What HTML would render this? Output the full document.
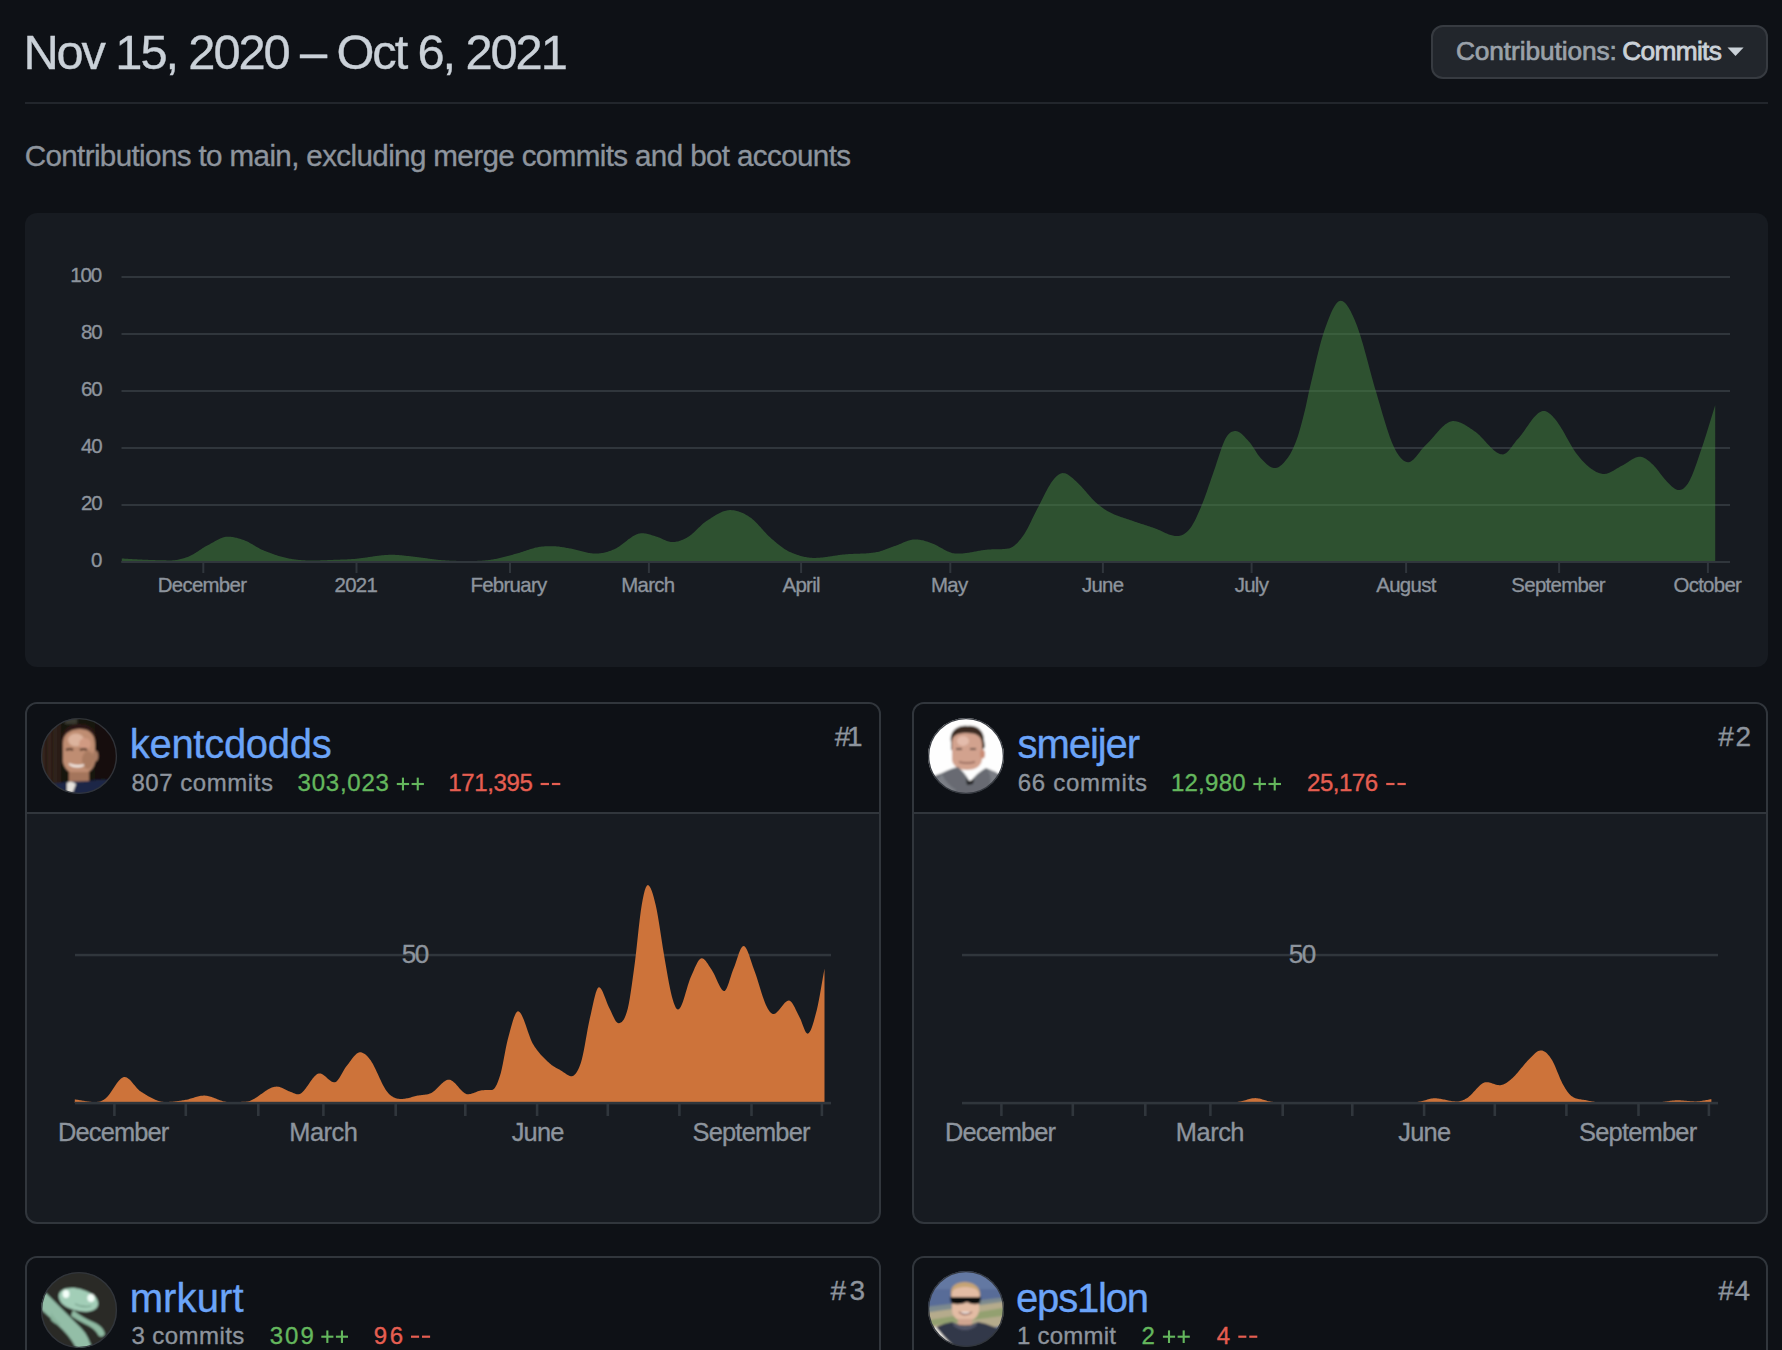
<!DOCTYPE html>
<html><head><meta charset="utf-8">
<style>
html,body{margin:0;padding:0;background:#0e1116;width:1782px;height:1350px;overflow:hidden;position:relative}
.t{position:absolute;white-space:nowrap;line-height:1;font-family:"Liberation Sans", sans-serif}
</style></head><body>
<div style="position:absolute;left:1431px;top:25px;width:337px;height:54px;box-sizing:border-box;border:2px solid #373b41;border-radius:12px;background:#22262c"></div>
<div style="position:absolute;left:25px;top:102px;width:1743px;height:2px;background:#22262c"></div>
<div style="position:absolute;left:25px;top:213px;width:1743px;height:454px;border-radius:12px;background:#171b21"></div>
<div style="position:absolute;left:25px;top:702px;width:856px;height:522px;box-sizing:border-box;border:2px solid #31363c;border-radius:12px;background:#171b21;overflow:hidden"><div style="position:absolute;left:0;top:0;right:0;height:108px;background:#0e1116;border-bottom:2px solid #31363c"></div></div>
<div style="position:absolute;left:912px;top:702px;width:856px;height:522px;box-sizing:border-box;border:2px solid #31363c;border-radius:12px;background:#171b21;overflow:hidden"><div style="position:absolute;left:0;top:0;right:0;height:108px;background:#0e1116;border-bottom:2px solid #31363c"></div></div>
<div style="position:absolute;left:25px;top:1256px;width:856px;height:300px;box-sizing:border-box;border:2px solid #31363c;border-radius:12px;background:#171b21;overflow:hidden"><div style="position:absolute;left:0;top:0;right:0;height:108px;background:#0e1116;border-bottom:2px solid #31363c"></div></div>
<div style="position:absolute;left:912px;top:1256px;width:856px;height:300px;box-sizing:border-box;border:2px solid #31363c;border-radius:12px;background:#171b21;overflow:hidden"><div style="position:absolute;left:0;top:0;right:0;height:108px;background:#0e1116;border-bottom:2px solid #31363c"></div></div>
<svg style="position:absolute;left:0;top:0" width="1782" height="1350">
<path d="M1727.5,47.5 L1743.6,47.5 L1735.5,56 Z" fill="#cad1d8"/>
<rect x="121.5" y="276" width="1608.5" height="2" fill="#30363c"/>
<rect x="121.5" y="333" width="1608.5" height="2" fill="#30363c"/>
<rect x="121.5" y="390" width="1608.5" height="2" fill="#30363c"/>
<rect x="121.5" y="447" width="1608.5" height="2" fill="#30363c"/>
<rect x="121.5" y="504" width="1608.5" height="2" fill="#30363c"/>
<rect x="121.5" y="561" width="1608.5" height="2" fill="#30363c"/>
<path d="M121.8,562.0 L121.8,558.50 L122.8,558.55 L123.8,558.61 L124.8,558.67 L125.8,558.72 L126.8,558.78 L127.8,558.84 L128.8,558.90 L129.8,558.96 L130.8,559.02 L131.8,559.08 L132.8,559.13 L133.8,559.19 L134.8,559.25 L135.8,559.31 L136.8,559.36 L137.8,559.42 L138.8,559.47 L139.8,559.52 L140.8,559.57 L141.8,559.62 L142.8,559.67 L143.8,559.71 L144.8,559.76 L145.8,559.80 L146.8,559.83 L147.8,559.87 L148.8,559.91 L149.8,559.95 L150.8,559.98 L151.8,560.02 L152.8,560.05 L153.8,560.09 L154.8,560.12 L155.8,560.15 L156.8,560.18 L157.8,560.21 L158.8,560.23 L159.8,560.26 L160.8,560.28 L161.8,560.30 L162.8,560.32 L163.8,560.34 L164.8,560.36 L165.8,560.37 L166.8,560.38 L167.8,560.39 L168.8,560.40 L169.8,560.40 L170.8,560.40 L171.8,560.38 L172.8,560.34 L173.8,560.27 L174.8,560.17 L175.8,560.05 L176.8,559.91 L177.8,559.74 L178.8,559.55 L179.8,559.34 L180.8,559.10 L181.8,558.85 L182.8,558.57 L183.8,558.27 L184.8,557.95 L185.8,557.61 L186.8,557.25 L187.8,556.88 L188.8,556.48 L189.8,556.06 L190.8,555.59 L191.8,555.08 L192.8,554.53 L193.8,553.95 L194.8,553.34 L195.8,552.71 L196.8,552.07 L197.8,551.41 L198.8,550.74 L199.8,550.07 L200.8,549.40 L201.8,548.74 L202.8,548.10 L203.8,547.46 L204.8,546.85 L205.8,546.27 L206.8,545.72 L207.8,545.20 L208.8,544.68 L209.8,544.14 L210.8,543.58 L211.8,543.02 L212.8,542.45 L213.8,541.88 L214.8,541.32 L215.8,540.77 L216.8,540.23 L217.8,539.71 L218.8,539.22 L219.8,538.76 L220.8,538.33 L221.8,537.94 L222.8,537.59 L223.8,537.30 L224.8,537.05 L225.8,536.87 L226.8,536.75 L227.8,536.70 L228.8,536.71 L229.8,536.75 L230.8,536.83 L231.8,536.93 L232.8,537.07 L233.8,537.23 L234.8,537.42 L235.8,537.64 L236.8,537.87 L237.8,538.13 L238.8,538.42 L239.8,538.72 L240.8,539.04 L241.8,539.38 L242.8,539.73 L243.8,540.10 L244.8,540.48 L245.8,540.89 L246.8,541.34 L247.8,541.83 L248.8,542.35 L249.8,542.89 L250.8,543.45 L251.8,544.02 L252.8,544.61 L253.8,545.20 L254.8,545.80 L255.8,546.39 L256.8,546.97 L257.8,547.55 L258.8,548.10 L259.8,548.64 L260.8,549.15 L261.8,549.63 L262.8,550.07 L263.8,550.49 L264.8,550.90 L265.8,551.30 L266.8,551.70 L267.8,552.09 L268.8,552.48 L269.8,552.86 L270.8,553.24 L271.8,553.61 L272.8,553.97 L273.8,554.32 L274.8,554.67 L275.8,555.00 L276.8,555.33 L277.8,555.65 L278.8,555.96 L279.8,556.26 L280.8,556.56 L281.8,556.84 L282.8,557.11 L283.8,557.37 L284.8,557.62 L285.8,557.86 L286.8,558.09 L287.8,558.30 L288.8,558.50 L289.8,558.69 L290.8,558.87 L291.8,559.04 L292.8,559.20 L293.8,559.34 L294.8,559.48 L295.8,559.61 L296.8,559.72 L297.8,559.83 L298.8,559.93 L299.8,560.01 L300.8,560.09 L301.8,560.17 L302.8,560.23 L303.8,560.29 L304.8,560.34 L305.8,560.38 L306.8,560.41 L307.8,560.44 L308.8,560.46 L309.8,560.48 L310.8,560.49 L311.8,560.50 L312.8,560.50 L313.8,560.50 L314.8,560.49 L315.8,560.47 L316.8,560.46 L317.8,560.44 L318.8,560.41 L319.8,560.39 L320.8,560.36 L321.8,560.33 L322.8,560.29 L323.8,560.25 L324.8,560.22 L325.8,560.18 L326.8,560.14 L327.8,560.10 L328.8,560.05 L329.8,560.01 L330.8,559.97 L331.8,559.93 L332.8,559.89 L333.8,559.85 L334.8,559.81 L335.8,559.77 L336.8,559.74 L337.8,559.70 L338.8,559.67 L339.8,559.64 L340.8,559.61 L341.8,559.58 L342.8,559.55 L343.8,559.51 L344.8,559.48 L345.8,559.44 L346.8,559.40 L347.8,559.35 L348.8,559.30 L349.8,559.25 L350.8,559.19 L351.8,559.12 L352.8,559.05 L353.8,558.98 L354.8,558.89 L355.8,558.80 L356.8,558.70 L357.8,558.59 L358.8,558.47 L359.8,558.35 L360.8,558.23 L361.8,558.10 L362.8,557.96 L363.8,557.82 L364.8,557.68 L365.8,557.53 L366.8,557.39 L367.8,557.24 L368.8,557.09 L369.8,556.94 L370.8,556.79 L371.8,556.65 L372.8,556.50 L373.8,556.36 L374.8,556.21 L375.8,556.08 L376.8,555.94 L377.8,555.81 L378.8,555.69 L379.8,555.57 L380.8,555.46 L381.8,555.35 L382.8,555.25 L383.8,555.16 L384.8,555.08 L385.8,555.01 L386.8,554.95 L387.8,554.89 L388.8,554.85 L389.8,554.82 L390.8,554.81 L391.8,554.80 L392.8,554.81 L393.8,554.83 L394.8,554.86 L395.8,554.90 L396.8,554.95 L397.8,555.01 L398.8,555.08 L399.8,555.16 L400.8,555.25 L401.8,555.34 L402.8,555.44 L403.8,555.54 L404.8,555.65 L405.8,555.76 L406.8,555.88 L407.8,555.99 L408.8,556.11 L409.8,556.23 L410.8,556.35 L411.8,556.47 L412.8,556.59 L413.8,556.71 L414.8,556.82 L415.8,556.93 L416.8,557.04 L417.8,557.16 L418.8,557.27 L419.8,557.40 L420.8,557.53 L421.8,557.66 L422.8,557.79 L423.8,557.93 L424.8,558.07 L425.8,558.21 L426.8,558.35 L427.8,558.50 L428.8,558.64 L429.8,558.78 L430.8,558.92 L431.8,559.05 L432.8,559.19 L433.8,559.32 L434.8,559.44 L435.8,559.56 L436.8,559.68 L437.8,559.79 L438.8,559.89 L439.8,559.99 L440.8,560.08 L441.8,560.16 L442.8,560.23 L443.8,560.30 L444.8,560.37 L445.8,560.43 L446.8,560.49 L447.8,560.55 L448.8,560.60 L449.8,560.65 L450.8,560.70 L451.8,560.74 L452.8,560.78 L453.8,560.81 L454.8,560.84 L455.8,560.87 L456.8,560.90 L457.8,560.92 L458.8,560.94 L459.8,560.96 L460.8,560.97 L461.8,560.98 L462.8,560.99 L463.8,561.00 L464.8,561.00 L465.8,561.00 L466.8,561.00 L467.8,561.00 L468.8,561.00 L469.8,560.99 L470.8,560.99 L471.8,560.98 L472.8,560.97 L473.8,560.95 L474.8,560.93 L475.8,560.91 L476.8,560.88 L477.8,560.85 L478.8,560.81 L479.8,560.77 L480.8,560.72 L481.8,560.66 L482.8,560.59 L483.8,560.52 L484.8,560.44 L485.8,560.35 L486.8,560.25 L487.8,560.14 L488.8,560.03 L489.8,559.90 L490.8,559.76 L491.8,559.61 L492.8,559.44 L493.8,559.27 L494.8,559.08 L495.8,558.88 L496.8,558.68 L497.8,558.47 L498.8,558.24 L499.8,558.01 L500.8,557.78 L501.8,557.53 L502.8,557.29 L503.8,557.03 L504.8,556.78 L505.8,556.51 L506.8,556.25 L507.8,555.98 L508.8,555.71 L509.8,555.45 L510.8,555.18 L511.8,554.91 L512.8,554.64 L513.8,554.37 L514.8,554.11 L515.8,553.84 L516.8,553.56 L517.8,553.27 L518.8,552.96 L519.8,552.65 L520.8,552.33 L521.8,552.00 L522.8,551.66 L523.8,551.32 L524.8,550.98 L525.8,550.65 L526.8,550.31 L527.8,549.97 L528.8,549.64 L529.8,549.32 L530.8,549.01 L531.8,548.70 L532.8,548.41 L533.8,548.13 L534.8,547.87 L535.8,547.62 L536.8,547.39 L537.8,547.18 L538.8,546.99 L539.8,546.83 L540.8,546.69 L541.8,546.57 L542.8,546.48 L543.8,546.40 L544.8,546.34 L545.8,546.29 L546.8,546.25 L547.8,546.23 L548.8,546.21 L549.8,546.21 L550.8,546.20 L551.8,546.20 L552.8,546.20 L553.8,546.23 L554.8,546.27 L555.8,546.33 L556.8,546.41 L557.8,546.51 L558.8,546.62 L559.8,546.75 L560.8,546.89 L561.8,547.03 L562.8,547.19 L563.8,547.35 L564.8,547.52 L565.8,547.70 L566.8,547.88 L567.8,548.05 L568.8,548.23 L569.8,548.41 L570.8,548.58 L571.8,548.76 L572.8,548.96 L573.8,549.18 L574.8,549.41 L575.8,549.65 L576.8,549.90 L577.8,550.16 L578.8,550.43 L579.8,550.70 L580.8,550.97 L581.8,551.24 L582.8,551.51 L583.8,551.77 L584.8,552.02 L585.8,552.26 L586.8,552.49 L587.8,552.71 L588.8,552.90 L589.8,553.08 L590.8,553.24 L591.8,553.37 L592.8,553.47 L593.8,553.54 L594.8,553.59 L595.8,553.60 L596.8,553.58 L597.8,553.53 L598.8,553.46 L599.8,553.36 L600.8,553.23 L601.8,553.08 L602.8,552.91 L603.8,552.71 L604.8,552.48 L605.8,552.23 L606.8,551.96 L607.8,551.66 L608.8,551.35 L609.8,551.01 L610.8,550.64 L611.8,550.26 L612.8,549.86 L613.8,549.43 L614.8,548.98 L615.8,548.47 L616.8,547.90 L617.8,547.30 L618.8,546.65 L619.8,545.96 L620.8,545.24 L621.8,544.51 L622.8,543.75 L623.8,542.98 L624.8,542.20 L625.8,541.42 L626.8,540.64 L627.8,539.87 L628.8,539.12 L629.8,538.38 L630.8,537.68 L631.8,537.00 L632.8,536.36 L633.8,535.77 L634.8,535.22 L635.8,534.72 L636.8,534.29 L637.8,533.92 L638.8,533.62 L639.8,533.40 L640.8,533.26 L641.8,533.20 L642.8,533.22 L643.8,533.29 L644.8,533.41 L645.8,533.57 L646.8,533.77 L647.8,534.00 L648.8,534.26 L649.8,534.54 L650.8,534.84 L651.8,535.15 L652.8,535.47 L653.8,535.80 L654.8,536.12 L655.8,536.44 L656.8,536.75 L657.8,537.05 L658.8,537.41 L659.8,537.80 L660.8,538.24 L661.8,538.69 L662.8,539.16 L663.8,539.63 L664.8,540.09 L665.8,540.53 L666.8,540.94 L667.8,541.30 L668.8,541.61 L669.8,541.85 L670.8,542.02 L671.8,542.10 L672.8,542.09 L673.8,542.04 L674.8,541.94 L675.8,541.80 L676.8,541.61 L677.8,541.39 L678.8,541.13 L679.8,540.82 L680.8,540.48 L681.8,540.10 L682.8,539.69 L683.8,539.23 L684.8,538.75 L685.8,538.22 L686.8,537.67 L687.8,537.08 L688.8,536.45 L689.8,535.75 L690.8,534.99 L691.8,534.17 L692.8,533.31 L693.8,532.41 L694.8,531.47 L695.8,530.52 L696.8,529.55 L697.8,528.57 L698.8,527.59 L699.8,526.63 L700.8,525.68 L701.8,524.76 L702.8,523.87 L703.8,523.03 L704.8,522.24 L705.8,521.50 L706.8,520.84 L707.8,520.19 L708.8,519.54 L709.8,518.89 L710.8,518.24 L711.8,517.59 L712.8,516.95 L713.8,516.32 L714.8,515.70 L715.8,515.10 L716.8,514.52 L717.8,513.96 L718.8,513.42 L719.8,512.92 L720.8,512.44 L721.8,512.00 L722.8,511.60 L723.8,511.24 L724.8,510.92 L725.8,510.65 L726.8,510.43 L727.8,510.26 L728.8,510.15 L729.8,510.10 L730.8,510.11 L731.8,510.16 L732.8,510.24 L733.8,510.37 L734.8,510.53 L735.8,510.72 L736.8,510.96 L737.8,511.23 L738.8,511.54 L739.8,511.88 L740.8,512.26 L741.8,512.67 L742.8,513.11 L743.8,513.59 L744.8,514.10 L745.8,514.64 L746.8,515.22 L747.8,515.83 L748.8,516.46 L749.8,517.13 L750.8,517.85 L751.8,518.62 L752.8,519.46 L753.8,520.35 L754.8,521.29 L755.8,522.27 L756.8,523.29 L757.8,524.34 L758.8,525.41 L759.8,526.50 L760.8,527.60 L761.8,528.71 L762.8,529.82 L763.8,530.92 L764.8,532.01 L765.8,533.09 L766.8,534.14 L767.8,535.17 L768.8,536.16 L769.8,537.11 L770.8,538.01 L771.8,538.89 L772.8,539.76 L773.8,540.62 L774.8,541.48 L775.8,542.33 L776.8,543.17 L777.8,543.99 L778.8,544.80 L779.8,545.59 L780.8,546.36 L781.8,547.10 L782.8,547.81 L783.8,548.50 L784.8,549.16 L785.8,549.78 L786.8,550.36 L787.8,550.91 L788.8,551.42 L789.8,551.88 L790.8,552.33 L791.8,552.76 L792.8,553.18 L793.8,553.58 L794.8,553.97 L795.8,554.34 L796.8,554.70 L797.8,555.04 L798.8,555.36 L799.8,555.67 L800.8,555.96 L801.8,556.23 L802.8,556.48 L803.8,556.71 L804.8,556.93 L805.8,557.12 L806.8,557.29 L807.8,557.44 L808.8,557.58 L809.8,557.69 L810.8,557.77 L811.8,557.84 L812.8,557.88 L813.8,557.90 L814.8,557.90 L815.8,557.88 L816.8,557.84 L817.8,557.80 L818.8,557.74 L819.8,557.66 L820.8,557.58 L821.8,557.48 L822.8,557.38 L823.8,557.27 L824.8,557.15 L825.8,557.02 L826.8,556.88 L827.8,556.75 L828.8,556.60 L829.8,556.45 L830.8,556.31 L831.8,556.15 L832.8,556.00 L833.8,555.85 L834.8,555.70 L835.8,555.55 L836.8,555.40 L837.8,555.25 L838.8,555.11 L839.8,554.98 L840.8,554.85 L841.8,554.73 L842.8,554.61 L843.8,554.51 L844.8,554.41 L845.8,554.32 L846.8,554.24 L847.8,554.17 L848.8,554.11 L849.8,554.05 L850.8,554.00 L851.8,553.95 L852.8,553.91 L853.8,553.87 L854.8,553.83 L855.8,553.80 L856.8,553.76 L857.8,553.73 L858.8,553.70 L859.8,553.66 L860.8,553.62 L861.8,553.58 L862.8,553.54 L863.8,553.49 L864.8,553.44 L865.8,553.38 L866.8,553.31 L867.8,553.24 L868.8,553.16 L869.8,553.07 L870.8,552.97 L871.8,552.86 L872.8,552.74 L873.8,552.60 L874.8,552.46 L875.8,552.30 L876.8,552.12 L877.8,551.90 L878.8,551.65 L879.8,551.38 L880.8,551.08 L881.8,550.77 L882.8,550.43 L883.8,550.08 L884.8,549.71 L885.8,549.34 L886.8,548.96 L887.8,548.58 L888.8,548.19 L889.8,547.81 L890.8,547.43 L891.8,547.07 L892.8,546.71 L893.8,546.37 L894.8,546.03 L895.8,545.68 L896.8,545.30 L897.8,544.90 L898.8,544.49 L899.8,544.07 L900.8,543.64 L901.8,543.21 L902.8,542.78 L903.8,542.35 L904.8,541.94 L905.8,541.55 L906.8,541.17 L907.8,540.82 L908.8,540.50 L909.8,540.21 L910.8,539.96 L911.8,539.74 L912.8,539.58 L913.8,539.47 L914.8,539.41 L915.8,539.40 L916.8,539.44 L917.8,539.52 L918.8,539.63 L919.8,539.77 L920.8,539.94 L921.8,540.14 L922.8,540.36 L923.8,540.62 L924.8,540.89 L925.8,541.18 L926.8,541.49 L927.8,541.82 L928.8,542.16 L929.8,542.51 L930.8,542.88 L931.8,543.25 L932.8,543.66 L933.8,544.10 L934.8,544.57 L935.8,545.06 L936.8,545.58 L937.8,546.11 L938.8,546.65 L939.8,547.20 L940.8,547.76 L941.8,548.32 L942.8,548.87 L943.8,549.41 L944.8,549.94 L945.8,550.46 L946.8,550.95 L947.8,551.42 L948.8,551.86 L949.8,552.26 L950.8,552.62 L951.8,552.90 L952.8,553.13 L953.8,553.30 L954.8,553.43 L955.8,553.51 L956.8,553.57 L957.8,553.59 L958.8,553.60 L959.8,553.59 L960.8,553.56 L961.8,553.50 L962.8,553.43 L963.8,553.34 L964.8,553.24 L965.8,553.11 L966.8,552.98 L967.8,552.84 L968.8,552.68 L969.8,552.51 L970.8,552.34 L971.8,552.16 L972.8,551.98 L973.8,551.79 L974.8,551.60 L975.8,551.41 L976.8,551.22 L977.8,551.03 L978.8,550.85 L979.8,550.67 L980.8,550.50 L981.8,550.33 L982.8,550.18 L983.8,550.03 L984.8,549.90 L985.8,549.78 L986.8,549.67 L987.8,549.58 L988.8,549.51 L989.8,549.45 L990.8,549.41 L991.8,549.37 L992.8,549.34 L993.8,549.32 L994.8,549.31 L995.8,549.29 L996.8,549.28 L997.8,549.26 L998.8,549.24 L999.8,549.22 L1000.8,549.19 L1001.8,549.15 L1002.8,549.10 L1003.8,549.03 L1004.8,548.95 L1005.8,548.85 L1006.8,548.73 L1007.8,548.59 L1008.8,548.42 L1009.8,548.16 L1010.8,547.78 L1011.8,547.29 L1012.8,546.70 L1013.8,546.01 L1014.8,545.23 L1015.8,544.36 L1016.8,543.41 L1017.8,542.39 L1018.8,541.28 L1019.8,540.11 L1020.8,538.88 L1021.8,537.59 L1022.8,536.24 L1023.8,534.80 L1024.8,533.24 L1025.8,531.55 L1026.8,529.77 L1027.8,527.90 L1028.8,525.96 L1029.8,523.96 L1030.8,521.93 L1031.8,519.87 L1032.8,517.80 L1033.8,515.73 L1034.8,513.69 L1035.8,511.68 L1036.8,509.73 L1037.8,507.84 L1038.8,505.92 L1039.8,503.96 L1040.8,501.98 L1041.8,499.98 L1042.8,497.97 L1043.8,495.97 L1044.8,494.00 L1045.8,492.06 L1046.8,490.16 L1047.8,488.32 L1048.8,486.56 L1049.8,484.88 L1050.8,483.29 L1051.8,481.82 L1052.8,480.46 L1053.8,479.19 L1054.8,478.03 L1055.8,476.97 L1056.8,476.02 L1057.8,475.20 L1058.8,474.50 L1059.8,473.94 L1060.8,473.51 L1061.8,473.23 L1062.8,473.11 L1063.8,473.14 L1064.8,473.31 L1065.8,473.62 L1066.8,474.04 L1067.8,474.57 L1068.8,475.20 L1069.8,475.90 L1070.8,476.68 L1071.8,477.50 L1072.8,478.37 L1073.8,479.27 L1074.8,480.19 L1075.8,481.10 L1076.8,482.01 L1077.8,482.93 L1078.8,483.89 L1079.8,484.91 L1080.8,485.95 L1081.8,487.04 L1082.8,488.14 L1083.8,489.27 L1084.8,490.42 L1085.8,491.57 L1086.8,492.73 L1087.8,493.89 L1088.8,495.04 L1089.8,496.17 L1090.8,497.29 L1091.8,498.39 L1092.8,499.45 L1093.8,500.48 L1094.8,501.47 L1095.8,502.41 L1096.8,503.31 L1097.8,504.17 L1098.8,505.01 L1099.8,505.82 L1100.8,506.60 L1101.8,507.35 L1102.8,508.07 L1103.8,508.76 L1104.8,509.42 L1105.8,510.06 L1106.8,510.67 L1107.8,511.25 L1108.8,511.81 L1109.8,512.34 L1110.8,512.85 L1111.8,513.33 L1112.8,513.80 L1113.8,514.24 L1114.8,514.67 L1115.8,515.08 L1116.8,515.47 L1117.8,515.86 L1118.8,516.23 L1119.8,516.59 L1120.8,516.94 L1121.8,517.28 L1122.8,517.62 L1123.8,517.95 L1124.8,518.27 L1125.8,518.60 L1126.8,518.93 L1127.8,519.25 L1128.8,519.58 L1129.8,519.91 L1130.8,520.25 L1131.8,520.59 L1132.8,520.94 L1133.8,521.29 L1134.8,521.63 L1135.8,521.97 L1136.8,522.31 L1137.8,522.65 L1138.8,522.98 L1139.8,523.31 L1140.8,523.64 L1141.8,523.97 L1142.8,524.29 L1143.8,524.62 L1144.8,524.94 L1145.8,525.27 L1146.8,525.60 L1147.8,525.92 L1148.8,526.25 L1149.8,526.58 L1150.8,526.92 L1151.8,527.25 L1152.8,527.59 L1153.8,527.93 L1154.8,528.28 L1155.8,528.65 L1156.8,529.05 L1157.8,529.48 L1158.8,529.92 L1159.8,530.37 L1160.8,530.84 L1161.8,531.31 L1162.8,531.78 L1163.8,532.25 L1164.8,532.71 L1165.8,533.16 L1166.8,533.59 L1167.8,534.01 L1168.8,534.39 L1169.8,534.75 L1170.8,535.08 L1171.8,535.37 L1172.8,535.61 L1173.8,535.82 L1174.8,535.97 L1175.8,536.06 L1176.8,536.10 L1177.8,536.07 L1178.8,535.96 L1179.8,535.77 L1180.8,535.50 L1181.8,535.14 L1182.8,534.69 L1183.8,534.15 L1184.8,533.51 L1185.8,532.77 L1186.8,531.93 L1187.8,530.98 L1188.8,529.92 L1189.8,528.75 L1190.8,527.44 L1191.8,525.97 L1192.8,524.34 L1193.8,522.57 L1194.8,520.68 L1195.8,518.67 L1196.8,516.56 L1197.8,514.37 L1198.8,512.11 L1199.8,509.79 L1200.8,507.43 L1201.8,505.04 L1202.8,502.58 L1203.8,500.00 L1204.8,497.32 L1205.8,494.54 L1206.8,491.69 L1207.8,488.79 L1208.8,485.86 L1209.8,482.91 L1210.8,479.96 L1211.8,477.04 L1212.8,474.15 L1213.8,471.32 L1214.8,468.43 L1215.8,465.44 L1216.8,462.37 L1217.8,459.27 L1218.8,456.18 L1219.8,453.13 L1220.8,450.17 L1221.8,447.34 L1222.8,444.67 L1223.8,442.20 L1224.8,439.98 L1225.8,438.04 L1226.8,436.39 L1227.8,435.02 L1228.8,433.90 L1229.8,433.01 L1230.8,432.32 L1231.8,431.81 L1232.8,431.45 L1233.8,431.23 L1234.8,431.12 L1235.8,431.10 L1236.8,431.23 L1237.8,431.53 L1238.8,431.99 L1239.8,432.58 L1240.8,433.30 L1241.8,434.12 L1242.8,435.03 L1243.8,436.02 L1244.8,437.06 L1245.8,438.14 L1246.8,439.24 L1247.8,440.35 L1248.8,441.46 L1249.8,442.56 L1250.8,443.80 L1251.8,445.17 L1252.8,446.63 L1253.8,448.17 L1254.8,449.74 L1255.8,451.32 L1256.8,452.88 L1257.8,454.39 L1258.8,455.81 L1259.8,457.12 L1260.8,458.28 L1261.8,459.32 L1262.8,460.35 L1263.8,461.36 L1264.8,462.34 L1265.8,463.29 L1266.8,464.18 L1267.8,465.02 L1268.8,465.78 L1269.8,466.45 L1270.8,467.02 L1271.8,467.49 L1272.8,467.83 L1273.8,468.04 L1274.8,468.10 L1275.8,468.01 L1276.8,467.77 L1277.8,467.39 L1278.8,466.88 L1279.8,466.24 L1280.8,465.50 L1281.8,464.64 L1282.8,463.70 L1283.8,462.66 L1284.8,461.55 L1285.8,460.36 L1286.8,459.11 L1287.8,457.80 L1288.8,456.34 L1289.8,454.74 L1290.8,453.00 L1291.8,451.10 L1292.8,449.05 L1293.8,446.86 L1294.8,444.50 L1295.8,441.99 L1296.8,439.33 L1297.8,436.42 L1298.8,433.24 L1299.8,429.83 L1300.8,426.24 L1301.8,422.49 L1302.8,418.64 L1303.8,414.73 L1304.8,410.79 L1305.8,406.60 L1306.8,401.86 L1307.8,396.93 L1308.8,392.19 L1309.8,387.95 L1310.8,383.77 L1311.8,379.52 L1312.8,375.23 L1313.8,370.92 L1314.8,366.61 L1315.8,362.34 L1316.8,358.12 L1317.8,353.98 L1318.8,349.95 L1319.8,346.05 L1320.8,342.31 L1321.8,338.74 L1322.8,335.38 L1323.8,332.26 L1324.8,329.36 L1325.8,326.55 L1326.8,323.78 L1327.8,321.08 L1328.8,318.47 L1329.8,315.97 L1330.8,313.59 L1331.8,311.36 L1332.8,309.28 L1333.8,307.39 L1334.8,305.70 L1335.8,304.23 L1336.8,302.99 L1337.8,302.02 L1338.8,301.31 L1339.8,300.90 L1340.8,300.80 L1341.8,300.97 L1342.8,301.37 L1343.8,301.99 L1344.8,302.82 L1345.8,303.85 L1346.8,305.07 L1347.8,306.46 L1348.8,308.03 L1349.8,309.75 L1350.8,311.62 L1351.8,313.63 L1352.8,315.76 L1353.8,318.01 L1354.8,320.37 L1355.8,322.82 L1356.8,325.36 L1357.8,328.04 L1358.8,330.91 L1359.8,333.93 L1360.8,337.11 L1361.8,340.41 L1362.8,343.83 L1363.8,347.35 L1364.8,350.95 L1365.8,354.61 L1366.8,358.32 L1367.8,362.05 L1368.8,365.81 L1369.8,369.55 L1370.8,373.28 L1371.8,376.97 L1372.8,380.61 L1373.8,384.18 L1374.8,387.66 L1375.8,391.04 L1376.8,394.36 L1377.8,397.73 L1378.8,401.14 L1379.8,404.57 L1380.8,408.02 L1381.8,411.46 L1382.8,414.88 L1383.8,418.26 L1384.8,421.59 L1385.8,424.85 L1386.8,428.03 L1387.8,431.11 L1388.8,434.08 L1389.8,436.92 L1390.8,439.61 L1391.8,442.15 L1392.8,444.51 L1393.8,446.69 L1394.8,448.73 L1395.8,450.63 L1396.8,452.39 L1397.8,454.01 L1398.8,455.49 L1399.8,456.83 L1400.8,458.02 L1401.8,459.06 L1402.8,459.96 L1403.8,460.71 L1404.8,461.31 L1405.8,461.75 L1406.8,462.05 L1407.8,462.19 L1408.8,462.16 L1409.8,461.91 L1410.8,461.47 L1411.8,460.84 L1412.8,460.06 L1413.8,459.14 L1414.8,458.10 L1415.8,456.97 L1416.8,455.76 L1417.8,454.50 L1418.8,453.21 L1419.8,451.90 L1420.8,450.61 L1421.8,449.35 L1422.8,448.14 L1423.8,447.01 L1424.8,445.97 L1425.8,445.03 L1426.8,444.07 L1427.8,443.06 L1428.8,442.02 L1429.8,440.93 L1430.8,439.82 L1431.8,438.69 L1432.8,437.54 L1433.8,436.38 L1434.8,435.22 L1435.8,434.06 L1436.8,432.91 L1437.8,431.78 L1438.8,430.67 L1439.8,429.59 L1440.8,428.55 L1441.8,427.54 L1442.8,426.59 L1443.8,425.69 L1444.8,424.85 L1445.8,424.08 L1446.8,423.38 L1447.8,422.77 L1448.8,422.24 L1449.8,421.80 L1450.8,421.46 L1451.8,421.23 L1452.8,421.12 L1453.8,421.11 L1454.8,421.18 L1455.8,421.31 L1456.8,421.51 L1457.8,421.76 L1458.8,422.07 L1459.8,422.43 L1460.8,422.84 L1461.8,423.29 L1462.8,423.78 L1463.8,424.30 L1464.8,424.86 L1465.8,425.45 L1466.8,426.06 L1467.8,426.69 L1468.8,427.34 L1469.8,428.00 L1470.8,428.68 L1471.8,429.36 L1472.8,430.04 L1473.8,430.72 L1474.8,431.40 L1475.8,432.11 L1476.8,432.90 L1477.8,433.75 L1478.8,434.66 L1479.8,435.62 L1480.8,436.63 L1481.8,437.66 L1482.8,438.73 L1483.8,439.82 L1484.8,440.92 L1485.8,442.03 L1486.8,443.13 L1487.8,444.23 L1488.8,445.30 L1489.8,446.36 L1490.8,447.38 L1491.8,448.36 L1492.8,449.30 L1493.8,450.18 L1494.8,450.99 L1495.8,451.74 L1496.8,452.41 L1497.8,453.00 L1498.8,453.49 L1499.8,453.89 L1500.8,454.18 L1501.8,454.35 L1502.8,454.40 L1503.8,454.25 L1504.8,453.86 L1505.8,453.26 L1506.8,452.47 L1507.8,451.53 L1508.8,450.45 L1509.8,449.26 L1510.8,448.00 L1511.8,446.67 L1512.8,445.32 L1513.8,443.96 L1514.8,442.63 L1515.8,441.34 L1516.8,440.12 L1517.8,439.00 L1518.8,437.90 L1519.8,436.72 L1520.8,435.47 L1521.8,434.16 L1522.8,432.80 L1523.8,431.41 L1524.8,429.99 L1525.8,428.55 L1526.8,427.11 L1527.8,425.66 L1528.8,424.23 L1529.8,422.82 L1530.8,421.44 L1531.8,420.11 L1532.8,418.82 L1533.8,417.60 L1534.8,416.45 L1535.8,415.38 L1536.8,414.41 L1537.8,413.54 L1538.8,412.78 L1539.8,412.14 L1540.8,411.63 L1541.8,411.27 L1542.8,411.05 L1543.8,411.00 L1544.8,411.11 L1545.8,411.37 L1546.8,411.78 L1547.8,412.31 L1548.8,412.96 L1549.8,413.73 L1550.8,414.59 L1551.8,415.55 L1552.8,416.59 L1553.8,417.70 L1554.8,418.87 L1555.8,420.10 L1556.8,421.37 L1557.8,422.70 L1558.8,424.13 L1559.8,425.65 L1560.8,427.24 L1561.8,428.89 L1562.8,430.59 L1563.8,432.34 L1564.8,434.12 L1565.8,435.92 L1566.8,437.73 L1567.8,439.53 L1568.8,441.33 L1569.8,443.10 L1570.8,444.84 L1571.8,446.53 L1572.8,448.17 L1573.8,449.74 L1574.8,451.23 L1575.8,452.64 L1576.8,454.01 L1577.8,455.33 L1578.8,456.61 L1579.8,457.85 L1580.8,459.04 L1581.8,460.18 L1582.8,461.28 L1583.8,462.34 L1584.8,463.35 L1585.8,464.31 L1586.8,465.22 L1587.8,466.09 L1588.8,466.91 L1589.8,467.68 L1590.8,468.43 L1591.8,469.14 L1592.8,469.82 L1593.8,470.47 L1594.8,471.07 L1595.8,471.63 L1596.8,472.14 L1597.8,472.60 L1598.8,472.99 L1599.8,473.33 L1600.8,473.61 L1601.8,473.81 L1602.8,473.94 L1603.8,474.00 L1604.8,473.97 L1605.8,473.84 L1606.8,473.63 L1607.8,473.34 L1608.8,472.98 L1609.8,472.56 L1610.8,472.08 L1611.8,471.56 L1612.8,471.01 L1613.8,470.42 L1614.8,469.82 L1615.8,469.21 L1616.8,468.60 L1617.8,467.99 L1618.8,467.40 L1619.8,466.83 L1620.8,466.30 L1621.8,465.80 L1622.8,465.28 L1623.8,464.72 L1624.8,464.11 L1625.8,463.48 L1626.8,462.82 L1627.8,462.16 L1628.8,461.49 L1629.8,460.84 L1630.8,460.19 L1631.8,459.58 L1632.8,459.00 L1633.8,458.46 L1634.8,457.98 L1635.8,457.56 L1636.8,457.22 L1637.8,456.95 L1638.8,456.78 L1639.8,456.70 L1640.8,456.75 L1641.8,456.92 L1642.8,457.23 L1643.8,457.64 L1644.8,458.16 L1645.8,458.77 L1646.8,459.45 L1647.8,460.20 L1648.8,461.01 L1649.8,461.87 L1650.8,462.76 L1651.8,463.66 L1652.8,464.59 L1653.8,465.58 L1654.8,466.66 L1655.8,467.82 L1656.8,469.04 L1657.8,470.31 L1658.8,471.61 L1659.8,472.93 L1660.8,474.25 L1661.8,475.56 L1662.8,476.84 L1663.8,478.08 L1664.8,479.26 L1665.8,480.37 L1666.8,481.40 L1667.8,482.41 L1668.8,483.43 L1669.8,484.46 L1670.8,485.46 L1671.8,486.41 L1672.8,487.30 L1673.8,488.10 L1674.8,488.80 L1675.8,489.37 L1676.8,489.79 L1677.8,490.04 L1678.8,490.10 L1679.8,490.01 L1680.8,489.78 L1681.8,489.41 L1682.8,488.88 L1683.8,488.19 L1684.8,487.34 L1685.8,486.30 L1686.8,485.07 L1687.8,483.64 L1688.8,482.01 L1689.8,480.17 L1690.8,478.12 L1691.8,475.88 L1692.8,473.48 L1693.8,470.93 L1694.8,468.26 L1695.8,465.49 L1696.8,462.64 L1697.8,459.73 L1698.8,456.78 L1699.8,453.81 L1700.8,450.84 L1701.8,447.89 L1702.8,444.94 L1703.8,441.92 L1704.8,438.83 L1705.8,435.70 L1706.8,432.52 L1707.8,429.31 L1708.8,426.07 L1709.8,422.81 L1710.8,419.54 L1711.8,416.28 L1712.8,413.02 L1713.8,409.79 L1714.8,406.58 L1715.2,405.30 L1715.2,562.0 Z" fill="#438440" fill-opacity="0.52"/>
<rect x="121.5" y="561" width="1608.5" height="2" fill="#30363c"/>
<rect x="202.3" y="563" width="2" height="10" fill="#30363c"/>
<rect x="355.5" y="563" width="2" height="10" fill="#30363c"/>
<rect x="509" y="563" width="2" height="10" fill="#30363c"/>
<rect x="647.9" y="563" width="2" height="10" fill="#30363c"/>
<rect x="800.1" y="563" width="2" height="10" fill="#30363c"/>
<rect x="949.3" y="563" width="2" height="10" fill="#30363c"/>
<rect x="1101.9" y="563" width="2" height="10" fill="#30363c"/>
<rect x="1250.6" y="563" width="2" height="10" fill="#30363c"/>
<rect x="1405.1" y="563" width="2" height="10" fill="#30363c"/>
<rect x="1558.1" y="563" width="2" height="10" fill="#30363c"/>
<rect x="1706.9" y="563" width="2" height="10" fill="#30363c"/>
<rect x="75" y="953.8" width="756" height="2.5" fill="#30363c"/>
<path d="M74.8,1103.0 L74.8,1099.40 L75.8,1099.53 L76.8,1099.68 L77.8,1099.83 L78.8,1100.00 L79.8,1100.16 L80.8,1100.33 L81.8,1100.51 L82.8,1100.68 L83.8,1100.84 L84.8,1101.01 L85.8,1101.17 L86.8,1101.32 L87.8,1101.46 L88.8,1101.59 L89.8,1101.70 L90.8,1101.80 L91.8,1101.88 L92.8,1101.94 L93.8,1101.98 L94.8,1102.00 L95.8,1101.99 L96.8,1101.94 L97.8,1101.84 L98.8,1101.68 L99.8,1101.46 L100.8,1101.16 L101.8,1100.79 L102.8,1100.32 L103.8,1099.76 L104.8,1099.08 L105.8,1098.30 L106.8,1097.37 L107.8,1096.28 L108.8,1095.06 L109.8,1093.72 L110.8,1092.31 L111.8,1090.83 L112.8,1089.31 L113.8,1087.78 L114.8,1086.26 L115.8,1084.78 L116.8,1083.36 L117.8,1082.02 L118.8,1080.79 L119.8,1079.69 L120.8,1078.74 L121.8,1077.98 L122.8,1077.42 L123.8,1077.08 L124.8,1077.01 L125.8,1077.18 L126.8,1077.57 L127.8,1078.17 L128.8,1078.94 L129.8,1079.85 L130.8,1080.87 L131.8,1081.99 L132.8,1083.17 L133.8,1084.38 L134.8,1085.60 L135.8,1086.81 L136.8,1087.97 L137.8,1089.05 L138.8,1090.04 L139.8,1090.90 L140.8,1091.60 L141.8,1092.22 L142.8,1092.84 L143.8,1093.46 L144.8,1094.08 L145.8,1094.70 L146.8,1095.30 L147.8,1095.90 L148.8,1096.48 L149.8,1097.04 L150.8,1097.59 L151.8,1098.12 L152.8,1098.62 L153.8,1099.10 L154.8,1099.55 L155.8,1099.98 L156.8,1100.36 L157.8,1100.72 L158.8,1101.03 L159.8,1101.31 L160.8,1101.54 L161.8,1101.73 L162.8,1101.87 L163.8,1101.96 L164.8,1102.00 L165.8,1102.00 L166.8,1101.98 L167.8,1101.95 L168.8,1101.91 L169.8,1101.85 L170.8,1101.79 L171.8,1101.71 L172.8,1101.63 L173.8,1101.53 L174.8,1101.43 L175.8,1101.32 L176.8,1101.20 L177.8,1101.07 L178.8,1100.94 L179.8,1100.80 L180.8,1100.66 L181.8,1100.51 L182.8,1100.35 L183.8,1100.19 L184.8,1100.03 L185.8,1099.86 L186.8,1099.65 L187.8,1099.41 L188.8,1099.15 L189.8,1098.87 L190.8,1098.57 L191.8,1098.26 L192.8,1097.95 L193.8,1097.64 L194.8,1097.33 L195.8,1097.04 L196.8,1096.75 L197.8,1096.49 L198.8,1096.25 L199.8,1096.05 L200.8,1095.87 L201.8,1095.74 L202.8,1095.64 L203.8,1095.60 L204.8,1095.62 L205.8,1095.69 L206.8,1095.82 L207.8,1096.00 L208.8,1096.23 L209.8,1096.49 L210.8,1096.79 L211.8,1097.12 L212.8,1097.47 L213.8,1097.85 L214.8,1098.23 L215.8,1098.62 L216.8,1099.02 L217.8,1099.41 L218.8,1099.79 L219.8,1100.16 L220.8,1100.51 L221.8,1100.84 L222.8,1101.14 L223.8,1101.40 L224.8,1101.62 L225.8,1101.80 L226.8,1101.92 L227.8,1101.99 L228.8,1102.00 L229.8,1102.00 L230.8,1102.00 L231.8,1102.00 L232.8,1102.00 L233.8,1101.99 L234.8,1101.99 L235.8,1101.98 L236.8,1101.97 L237.8,1101.95 L238.8,1101.94 L239.8,1101.92 L240.8,1101.89 L241.8,1101.87 L242.8,1101.83 L243.8,1101.80 L244.8,1101.75 L245.8,1101.71 L246.8,1101.62 L247.8,1101.45 L248.8,1101.20 L249.8,1100.89 L250.8,1100.50 L251.8,1100.06 L252.8,1099.56 L253.8,1099.02 L254.8,1098.43 L255.8,1097.81 L256.8,1097.15 L257.8,1096.48 L258.8,1095.78 L259.8,1095.07 L260.8,1094.35 L261.8,1093.63 L262.8,1092.91 L263.8,1092.21 L264.8,1091.52 L265.8,1090.85 L266.8,1090.21 L267.8,1089.60 L268.8,1089.03 L269.8,1088.51 L270.8,1088.04 L271.8,1087.62 L272.8,1087.27 L273.8,1086.99 L274.8,1086.78 L275.8,1086.64 L276.8,1086.60 L277.8,1086.66 L278.8,1086.82 L279.8,1087.07 L280.8,1087.39 L281.8,1087.78 L282.8,1088.22 L283.8,1088.70 L284.8,1089.19 L285.8,1089.70 L286.8,1090.20 L287.8,1090.68 L288.8,1091.13 L289.8,1091.53 L290.8,1091.91 L291.8,1092.33 L292.8,1092.78 L293.8,1093.21 L294.8,1093.61 L295.8,1093.94 L296.8,1094.18 L297.8,1094.29 L298.8,1094.23 L299.8,1093.93 L300.8,1093.39 L301.8,1092.66 L302.8,1091.74 L303.8,1090.67 L304.8,1089.48 L305.8,1088.18 L306.8,1086.80 L307.8,1085.38 L308.8,1083.92 L309.8,1082.47 L310.8,1081.04 L311.8,1079.66 L312.8,1078.35 L313.8,1077.14 L314.8,1076.06 L315.8,1075.13 L316.8,1074.37 L317.8,1073.81 L318.8,1073.48 L319.8,1073.40 L320.8,1073.57 L321.8,1073.94 L322.8,1074.48 L323.8,1075.16 L324.8,1075.95 L325.8,1076.82 L326.8,1077.72 L327.8,1078.63 L328.8,1079.51 L329.8,1080.33 L330.8,1081.06 L331.8,1081.66 L332.8,1082.11 L333.8,1082.36 L334.8,1082.36 L335.8,1081.97 L336.8,1081.19 L337.8,1080.09 L338.8,1078.73 L339.8,1077.17 L340.8,1075.47 L341.8,1073.69 L342.8,1071.90 L343.8,1070.15 L344.8,1068.50 L345.8,1067.02 L346.8,1065.76 L347.8,1064.52 L348.8,1063.21 L349.8,1061.85 L350.8,1060.48 L351.8,1059.12 L352.8,1057.81 L353.8,1056.57 L354.8,1055.44 L355.8,1054.43 L356.8,1053.59 L357.8,1052.93 L358.8,1052.49 L359.8,1052.31 L360.8,1052.35 L361.8,1052.55 L362.8,1052.90 L363.8,1053.40 L364.8,1054.04 L365.8,1054.81 L366.8,1055.72 L367.8,1056.76 L368.8,1057.92 L369.8,1059.20 L370.8,1060.60 L371.8,1062.15 L372.8,1063.86 L373.8,1065.72 L374.8,1067.70 L375.8,1069.76 L376.8,1071.90 L377.8,1074.07 L378.8,1076.26 L379.8,1078.44 L380.8,1080.59 L381.8,1082.68 L382.8,1084.68 L383.8,1086.58 L384.8,1088.33 L385.8,1089.93 L386.8,1091.34 L387.8,1092.57 L388.8,1093.67 L389.8,1094.64 L390.8,1095.49 L391.8,1096.24 L392.8,1096.87 L393.8,1097.41 L394.8,1097.86 L395.8,1098.23 L396.8,1098.51 L397.8,1098.72 L398.8,1098.87 L399.8,1098.96 L400.8,1099.00 L401.8,1098.99 L402.8,1098.93 L403.8,1098.84 L404.8,1098.71 L405.8,1098.54 L406.8,1098.35 L407.8,1098.13 L408.8,1097.90 L409.8,1097.65 L410.8,1097.39 L411.8,1097.12 L412.8,1096.85 L413.8,1096.58 L414.8,1096.32 L415.8,1096.07 L416.8,1095.84 L417.8,1095.62 L418.8,1095.44 L419.8,1095.29 L420.8,1095.17 L421.8,1095.07 L422.8,1094.97 L423.8,1094.87 L424.8,1094.76 L425.8,1094.62 L426.8,1094.44 L427.8,1094.22 L428.8,1093.95 L429.8,1093.61 L430.8,1093.19 L431.8,1092.68 L432.8,1092.05 L433.8,1091.31 L434.8,1090.47 L435.8,1089.55 L436.8,1088.58 L437.8,1087.57 L438.8,1086.55 L439.8,1085.53 L440.8,1084.53 L441.8,1083.58 L442.8,1082.68 L443.8,1081.87 L444.8,1081.16 L445.8,1080.56 L446.8,1080.11 L447.8,1079.82 L448.8,1079.70 L449.8,1079.80 L450.8,1080.11 L451.8,1080.63 L452.8,1081.31 L453.8,1082.14 L454.8,1083.08 L455.8,1084.12 L456.8,1085.22 L457.8,1086.36 L458.8,1087.52 L459.8,1088.67 L460.8,1089.78 L461.8,1090.82 L462.8,1091.78 L463.8,1092.61 L464.8,1093.31 L465.8,1093.84 L466.8,1094.18 L467.8,1094.30 L468.8,1094.25 L469.8,1094.11 L470.8,1093.89 L471.8,1093.61 L472.8,1093.28 L473.8,1092.92 L474.8,1092.53 L475.8,1092.13 L476.8,1091.73 L477.8,1091.35 L478.8,1091.01 L479.8,1090.70 L480.8,1090.46 L481.8,1090.28 L482.8,1090.19 L483.8,1090.14 L484.8,1090.12 L485.8,1090.10 L486.8,1090.10 L487.8,1090.10 L488.8,1090.10 L489.8,1090.08 L490.8,1090.06 L491.8,1090.01 L492.8,1089.79 L493.8,1089.09 L494.8,1087.94 L495.8,1086.36 L496.8,1084.39 L497.8,1082.04 L498.8,1079.35 L499.8,1076.36 L500.8,1072.92 L501.8,1068.70 L502.8,1063.90 L503.8,1058.75 L504.8,1053.48 L505.8,1048.31 L506.8,1043.47 L507.8,1039.20 L508.8,1035.52 L509.8,1031.81 L510.8,1028.09 L511.8,1024.47 L512.8,1021.07 L513.8,1018.01 L514.8,1015.39 L515.8,1013.32 L516.8,1011.93 L517.8,1011.32 L518.8,1011.50 L519.8,1012.28 L520.8,1013.57 L521.8,1015.31 L522.8,1017.43 L523.8,1019.86 L524.8,1022.51 L525.8,1025.33 L526.8,1028.25 L527.8,1031.18 L528.8,1034.07 L529.8,1036.83 L530.8,1039.40 L531.8,1041.71 L532.8,1043.68 L533.8,1045.34 L534.8,1046.89 L535.8,1048.36 L536.8,1049.75 L537.8,1051.07 L538.8,1052.32 L539.8,1053.52 L540.8,1054.66 L541.8,1055.76 L542.8,1056.81 L543.8,1057.83 L544.8,1058.82 L545.8,1059.79 L546.8,1060.74 L547.8,1061.68 L548.8,1062.62 L549.8,1063.53 L550.8,1064.37 L551.8,1065.14 L552.8,1065.84 L553.8,1066.50 L554.8,1067.11 L555.8,1067.68 L556.8,1068.24 L557.8,1068.78 L558.8,1069.32 L559.8,1069.87 L560.8,1070.43 L561.8,1071.02 L562.8,1071.68 L563.8,1072.38 L564.8,1073.11 L565.8,1073.83 L566.8,1074.51 L567.8,1075.11 L568.8,1075.61 L569.8,1075.98 L570.8,1076.17 L571.8,1076.17 L572.8,1075.91 L573.8,1075.39 L574.8,1074.58 L575.8,1073.47 L576.8,1072.05 L577.8,1070.30 L578.8,1068.20 L579.8,1065.75 L580.8,1062.92 L581.8,1059.57 L582.8,1055.37 L583.8,1050.51 L584.8,1045.17 L585.8,1039.57 L586.8,1033.89 L587.8,1028.35 L588.8,1023.13 L589.8,1018.45 L590.8,1014.13 L591.8,1009.58 L592.8,1004.97 L593.8,1000.51 L594.8,996.39 L595.8,992.81 L596.8,989.98 L597.8,988.07 L598.8,987.31 L599.8,987.60 L600.8,988.57 L601.8,990.11 L602.8,992.09 L603.8,994.41 L604.8,996.96 L605.8,999.61 L606.8,1002.26 L607.8,1004.79 L608.8,1007.10 L609.8,1009.07 L610.8,1011.08 L611.8,1013.24 L612.8,1015.44 L613.8,1017.57 L614.8,1019.51 L615.8,1021.15 L616.8,1022.37 L617.8,1023.08 L618.8,1023.19 L619.8,1023.01 L620.8,1022.60 L621.8,1021.89 L622.8,1020.84 L623.8,1019.39 L624.8,1017.48 L625.8,1015.08 L626.8,1012.11 L627.8,1008.47 L628.8,1003.79 L629.8,998.19 L630.8,991.86 L631.8,985.00 L632.8,977.79 L633.8,970.42 L634.8,962.97 L635.8,954.70 L636.8,945.74 L637.8,936.49 L638.8,927.34 L639.8,918.68 L640.8,910.91 L641.8,904.41 L642.8,898.88 L643.8,894.16 L644.8,890.33 L645.8,887.48 L646.8,885.71 L647.8,885.10 L648.8,885.50 L649.8,886.67 L650.8,888.52 L651.8,890.98 L652.8,894.00 L653.8,897.48 L654.8,901.38 L655.8,905.60 L656.8,910.34 L657.8,915.74 L658.8,921.65 L659.8,927.91 L660.8,934.39 L661.8,940.93 L662.8,947.39 L663.8,953.61 L664.8,959.47 L665.8,965.21 L666.8,970.99 L667.8,976.69 L668.8,982.18 L669.8,987.35 L670.8,992.06 L671.8,996.20 L672.8,999.81 L673.8,1002.98 L674.8,1005.62 L675.8,1007.66 L676.8,1009.00 L677.8,1009.58 L678.8,1009.34 L679.8,1008.35 L680.8,1006.70 L681.8,1004.51 L682.8,1001.88 L683.8,998.89 L684.8,995.67 L685.8,992.31 L686.8,988.91 L687.8,985.57 L688.8,982.40 L689.8,979.50 L690.8,976.97 L691.8,974.75 L692.8,972.47 L693.8,970.15 L694.8,967.86 L695.8,965.67 L696.8,963.65 L697.8,961.85 L698.8,960.36 L699.8,959.22 L700.8,958.52 L701.8,958.30 L702.8,958.53 L703.8,959.10 L704.8,959.96 L705.8,961.07 L706.8,962.38 L707.8,963.83 L708.8,965.38 L709.8,966.97 L710.8,968.56 L711.8,970.11 L712.8,971.64 L713.8,973.44 L714.8,975.48 L715.8,977.68 L716.8,979.94 L717.8,982.20 L718.8,984.37 L719.8,986.37 L720.8,988.12 L721.8,989.54 L722.8,990.54 L723.8,991.05 L724.8,990.91 L725.8,989.86 L726.8,988.02 L727.8,985.58 L728.8,982.71 L729.8,979.59 L730.8,976.40 L731.8,973.33 L732.8,970.53 L733.8,968.08 L734.8,965.39 L735.8,962.46 L736.8,959.42 L737.8,956.41 L738.8,953.55 L739.8,950.97 L740.8,948.81 L741.8,947.17 L742.8,946.21 L743.8,946.03 L744.8,946.61 L745.8,947.83 L746.8,949.59 L747.8,951.80 L748.8,954.36 L749.8,957.17 L750.8,960.15 L751.8,963.19 L752.8,966.20 L753.8,969.07 L754.8,971.77 L755.8,974.60 L756.8,977.62 L757.8,980.76 L758.8,983.98 L759.8,987.23 L760.8,990.47 L761.8,993.64 L762.8,996.68 L763.8,999.56 L764.8,1002.23 L765.8,1004.63 L766.8,1006.77 L767.8,1008.68 L768.8,1010.34 L769.8,1011.71 L770.8,1012.78 L771.8,1013.53 L772.8,1013.93 L773.8,1013.97 L774.8,1013.69 L775.8,1013.13 L776.8,1012.34 L777.8,1011.35 L778.8,1010.23 L779.8,1009.00 L780.8,1007.71 L781.8,1006.40 L782.8,1005.13 L783.8,1003.92 L784.8,1002.83 L785.8,1001.90 L786.8,1001.18 L787.8,1000.69 L788.8,1000.50 L789.8,1000.71 L790.8,1001.41 L791.8,1002.52 L792.8,1003.98 L793.8,1005.70 L794.8,1007.62 L795.8,1009.66 L796.8,1011.76 L797.8,1013.83 L798.8,1015.81 L799.8,1017.66 L800.8,1019.87 L801.8,1022.45 L802.8,1025.18 L803.8,1027.85 L804.8,1030.24 L805.8,1032.16 L806.8,1033.37 L807.8,1033.68 L808.8,1033.12 L809.8,1031.82 L810.8,1029.88 L811.8,1027.39 L812.8,1024.45 L813.8,1021.14 L814.8,1017.56 L815.8,1013.80 L816.8,1009.90 L817.8,1005.47 L818.8,1000.51 L819.8,995.15 L820.8,989.52 L821.8,983.77 L822.8,978.01 L823.8,972.39 L824.5,968.60 L824.5,1103.0 Z" fill="#cd733a"/>
<rect x="75" y="1101.8" width="756" height="2.6" fill="#30363c"/>
<rect x="113.10000000000001" y="1103" width="2.6" height="13" fill="#30363c"/>
<rect x="184.5" y="1103" width="2.6" height="13" fill="#30363c"/>
<rect x="257.0" y="1103" width="2.6" height="13" fill="#30363c"/>
<rect x="322.09999999999997" y="1103" width="2.6" height="13" fill="#30363c"/>
<rect x="394.4" y="1103" width="2.6" height="13" fill="#30363c"/>
<rect x="464.0" y="1103" width="2.6" height="13" fill="#30363c"/>
<rect x="535.8000000000001" y="1103" width="2.6" height="13" fill="#30363c"/>
<rect x="606.5" y="1103" width="2.6" height="13" fill="#30363c"/>
<rect x="678.1" y="1103" width="2.6" height="13" fill="#30363c"/>
<rect x="750.2" y="1103" width="2.6" height="13" fill="#30363c"/>
<rect x="820.6" y="1103" width="2.6" height="13" fill="#30363c"/>
<rect x="962" y="953.8" width="756" height="2.5" fill="#30363c"/>
<path d="M962.3,1103.0 L962.3,1103.00 L963.3,1103.00 L964.3,1103.00 L965.3,1103.00 L966.3,1103.00 L967.3,1103.00 L968.3,1103.00 L969.3,1103.00 L970.3,1103.00 L971.3,1103.00 L972.3,1103.00 L973.3,1103.00 L974.3,1103.00 L975.3,1103.00 L976.3,1103.00 L977.3,1103.00 L978.3,1103.00 L979.3,1103.00 L980.3,1103.00 L981.3,1103.00 L982.3,1103.00 L983.3,1103.00 L984.3,1103.00 L985.3,1103.00 L986.3,1103.00 L987.3,1103.00 L988.3,1103.00 L989.3,1103.00 L990.3,1103.00 L991.3,1103.00 L992.3,1103.00 L993.3,1103.00 L994.3,1103.00 L995.3,1103.00 L996.3,1103.00 L997.3,1103.00 L998.3,1103.00 L999.3,1103.00 L1000.3,1103.00 L1001.3,1103.00 L1002.3,1103.00 L1003.3,1103.00 L1004.3,1103.00 L1005.3,1103.00 L1006.3,1103.00 L1007.3,1103.00 L1008.3,1103.00 L1009.3,1103.00 L1010.3,1103.00 L1011.3,1103.00 L1012.3,1103.00 L1013.3,1103.00 L1014.3,1103.00 L1015.3,1103.00 L1016.3,1103.00 L1017.3,1103.00 L1018.3,1103.00 L1019.3,1103.00 L1020.3,1103.00 L1021.3,1103.00 L1022.3,1103.00 L1023.3,1103.00 L1024.3,1103.00 L1025.3,1103.00 L1026.3,1103.00 L1027.3,1103.00 L1028.3,1103.00 L1029.3,1103.00 L1030.3,1103.00 L1031.3,1103.00 L1032.3,1103.00 L1033.3,1103.00 L1034.3,1103.00 L1035.3,1103.00 L1036.3,1103.00 L1037.3,1103.00 L1038.3,1103.00 L1039.3,1103.00 L1040.3,1103.00 L1041.3,1103.00 L1042.3,1103.00 L1043.3,1103.00 L1044.3,1103.00 L1045.3,1103.00 L1046.3,1103.00 L1047.3,1103.00 L1048.3,1103.00 L1049.3,1103.00 L1050.3,1103.00 L1051.3,1103.00 L1052.3,1103.00 L1053.3,1103.00 L1054.3,1103.00 L1055.3,1103.00 L1056.3,1103.00 L1057.3,1103.00 L1058.3,1103.00 L1059.3,1103.00 L1060.3,1103.00 L1061.3,1103.00 L1062.3,1103.00 L1063.3,1103.00 L1064.3,1103.00 L1065.3,1103.00 L1066.3,1103.00 L1067.3,1103.00 L1068.3,1103.00 L1069.3,1103.00 L1070.3,1103.00 L1071.3,1103.00 L1072.3,1103.00 L1073.3,1103.00 L1074.3,1103.00 L1075.3,1103.00 L1076.3,1103.00 L1077.3,1103.00 L1078.3,1103.00 L1079.3,1103.00 L1080.3,1103.00 L1081.3,1103.00 L1082.3,1103.00 L1083.3,1103.00 L1084.3,1103.00 L1085.3,1103.00 L1086.3,1103.00 L1087.3,1103.00 L1088.3,1103.00 L1089.3,1103.00 L1090.3,1103.00 L1091.3,1103.00 L1092.3,1103.00 L1093.3,1103.00 L1094.3,1103.00 L1095.3,1103.00 L1096.3,1103.00 L1097.3,1103.00 L1098.3,1103.00 L1099.3,1103.00 L1100.3,1103.00 L1101.3,1103.00 L1102.3,1103.00 L1103.3,1103.00 L1104.3,1103.00 L1105.3,1103.00 L1106.3,1103.00 L1107.3,1103.00 L1108.3,1103.00 L1109.3,1103.00 L1110.3,1103.00 L1111.3,1103.00 L1112.3,1103.00 L1113.3,1103.00 L1114.3,1103.00 L1115.3,1103.00 L1116.3,1103.00 L1117.3,1103.00 L1118.3,1103.00 L1119.3,1103.00 L1120.3,1103.00 L1121.3,1103.00 L1122.3,1103.00 L1123.3,1103.00 L1124.3,1103.00 L1125.3,1103.00 L1126.3,1103.00 L1127.3,1103.00 L1128.3,1103.00 L1129.3,1103.00 L1130.3,1103.00 L1131.3,1103.00 L1132.3,1103.00 L1133.3,1103.00 L1134.3,1103.00 L1135.3,1103.00 L1136.3,1103.00 L1137.3,1103.00 L1138.3,1103.00 L1139.3,1103.00 L1140.3,1103.00 L1141.3,1103.00 L1142.3,1103.00 L1143.3,1103.00 L1144.3,1103.00 L1145.3,1103.00 L1146.3,1103.00 L1147.3,1103.00 L1148.3,1103.00 L1149.3,1103.00 L1150.3,1103.00 L1151.3,1103.00 L1152.3,1103.00 L1153.3,1103.00 L1154.3,1103.00 L1155.3,1103.00 L1156.3,1103.00 L1157.3,1103.00 L1158.3,1103.00 L1159.3,1103.00 L1160.3,1103.00 L1161.3,1103.00 L1162.3,1103.00 L1163.3,1103.00 L1164.3,1103.00 L1165.3,1103.00 L1166.3,1103.00 L1167.3,1103.00 L1168.3,1103.00 L1169.3,1103.00 L1170.3,1103.00 L1171.3,1103.00 L1172.3,1103.00 L1173.3,1103.00 L1174.3,1103.00 L1175.3,1103.00 L1176.3,1103.00 L1177.3,1103.00 L1178.3,1103.00 L1179.3,1103.00 L1180.3,1103.00 L1181.3,1103.00 L1182.3,1103.00 L1183.3,1103.00 L1184.3,1103.00 L1185.3,1103.00 L1186.3,1103.00 L1187.3,1103.00 L1188.3,1103.00 L1189.3,1103.00 L1190.3,1103.00 L1191.3,1103.00 L1192.3,1103.00 L1193.3,1103.00 L1194.3,1103.00 L1195.3,1103.00 L1196.3,1103.00 L1197.3,1103.00 L1198.3,1103.00 L1199.3,1103.00 L1200.3,1103.00 L1201.3,1103.00 L1202.3,1103.00 L1203.3,1103.00 L1204.3,1103.00 L1205.3,1103.00 L1206.3,1103.00 L1207.3,1103.00 L1208.3,1103.00 L1209.3,1103.00 L1210.3,1103.00 L1211.3,1103.00 L1212.3,1103.00 L1213.3,1103.00 L1214.3,1103.00 L1215.3,1103.00 L1216.3,1103.00 L1217.3,1103.00 L1218.3,1103.00 L1219.3,1103.00 L1220.3,1103.00 L1221.3,1103.00 L1222.3,1103.00 L1223.3,1103.00 L1224.3,1103.00 L1225.3,1103.00 L1226.3,1102.98 L1227.3,1102.95 L1228.3,1102.91 L1229.3,1102.84 L1230.3,1102.77 L1231.3,1102.68 L1232.3,1102.57 L1233.3,1102.46 L1234.3,1102.34 L1235.3,1102.21 L1236.3,1102.07 L1237.3,1101.92 L1238.3,1101.77 L1239.3,1101.61 L1240.3,1101.45 L1241.3,1101.25 L1242.3,1101.02 L1243.3,1100.77 L1244.3,1100.49 L1245.3,1100.19 L1246.3,1099.89 L1247.3,1099.59 L1248.3,1099.30 L1249.3,1099.03 L1250.3,1098.77 L1251.3,1098.55 L1252.3,1098.36 L1253.3,1098.22 L1254.3,1098.13 L1255.3,1098.10 L1256.3,1098.13 L1257.3,1098.23 L1258.3,1098.39 L1259.3,1098.59 L1260.3,1098.83 L1261.3,1099.10 L1262.3,1099.39 L1263.3,1099.70 L1264.3,1100.01 L1265.3,1100.32 L1266.3,1100.62 L1267.3,1100.90 L1268.3,1101.15 L1269.3,1101.37 L1270.3,1101.55 L1271.3,1101.71 L1272.3,1101.87 L1273.3,1102.02 L1274.3,1102.16 L1275.3,1102.30 L1276.3,1102.42 L1277.3,1102.54 L1278.3,1102.64 L1279.3,1102.74 L1280.3,1102.82 L1281.3,1102.88 L1282.3,1102.94 L1283.3,1102.97 L1284.3,1103.00 L1285.3,1103.00 L1286.3,1103.00 L1287.3,1103.00 L1288.3,1103.00 L1289.3,1103.00 L1290.3,1103.00 L1291.3,1103.00 L1292.3,1103.00 L1293.3,1103.00 L1294.3,1103.00 L1295.3,1103.00 L1296.3,1103.00 L1297.3,1103.00 L1298.3,1103.00 L1299.3,1103.00 L1300.3,1103.00 L1301.3,1103.00 L1302.3,1103.00 L1303.3,1103.00 L1304.3,1103.00 L1305.3,1103.00 L1306.3,1103.00 L1307.3,1103.00 L1308.3,1103.00 L1309.3,1103.00 L1310.3,1103.00 L1311.3,1103.00 L1312.3,1103.00 L1313.3,1103.00 L1314.3,1103.00 L1315.3,1103.00 L1316.3,1103.00 L1317.3,1103.00 L1318.3,1103.00 L1319.3,1103.00 L1320.3,1103.00 L1321.3,1103.00 L1322.3,1103.00 L1323.3,1103.00 L1324.3,1103.00 L1325.3,1103.00 L1326.3,1103.00 L1327.3,1103.00 L1328.3,1103.00 L1329.3,1103.00 L1330.3,1103.00 L1331.3,1103.00 L1332.3,1103.00 L1333.3,1103.00 L1334.3,1103.00 L1335.3,1103.00 L1336.3,1103.00 L1337.3,1103.00 L1338.3,1103.00 L1339.3,1103.00 L1340.3,1103.00 L1341.3,1103.00 L1342.3,1103.00 L1343.3,1103.00 L1344.3,1103.00 L1345.3,1103.00 L1346.3,1103.00 L1347.3,1103.00 L1348.3,1103.00 L1349.3,1103.00 L1350.3,1103.00 L1351.3,1103.00 L1352.3,1103.00 L1353.3,1103.00 L1354.3,1103.00 L1355.3,1103.00 L1356.3,1103.00 L1357.3,1103.00 L1358.3,1103.00 L1359.3,1103.00 L1360.3,1103.00 L1361.3,1103.00 L1362.3,1103.00 L1363.3,1103.00 L1364.3,1103.00 L1365.3,1103.00 L1366.3,1103.00 L1367.3,1103.00 L1368.3,1103.00 L1369.3,1103.00 L1370.3,1103.00 L1371.3,1103.00 L1372.3,1103.00 L1373.3,1103.00 L1374.3,1103.00 L1375.3,1103.00 L1376.3,1103.00 L1377.3,1103.00 L1378.3,1103.00 L1379.3,1103.00 L1380.3,1103.00 L1381.3,1103.00 L1382.3,1103.00 L1383.3,1103.00 L1384.3,1103.00 L1385.3,1103.00 L1386.3,1103.00 L1387.3,1103.00 L1388.3,1103.00 L1389.3,1103.00 L1390.3,1103.00 L1391.3,1103.00 L1392.3,1103.00 L1393.3,1103.00 L1394.3,1103.00 L1395.3,1103.00 L1396.3,1103.00 L1397.3,1103.00 L1398.3,1103.00 L1399.3,1103.00 L1400.3,1103.00 L1401.3,1103.00 L1402.3,1103.00 L1403.3,1103.00 L1404.3,1103.00 L1405.3,1103.00 L1406.3,1102.98 L1407.3,1102.95 L1408.3,1102.90 L1409.3,1102.84 L1410.3,1102.76 L1411.3,1102.67 L1412.3,1102.57 L1413.3,1102.46 L1414.3,1102.33 L1415.3,1102.20 L1416.3,1102.06 L1417.3,1101.92 L1418.3,1101.77 L1419.3,1101.61 L1420.3,1101.45 L1421.3,1101.26 L1422.3,1101.02 L1423.3,1100.76 L1424.3,1100.48 L1425.3,1100.19 L1426.3,1099.89 L1427.3,1099.60 L1428.3,1099.31 L1429.3,1099.05 L1430.3,1098.81 L1431.3,1098.61 L1432.3,1098.45 L1433.3,1098.35 L1434.3,1098.30 L1435.3,1098.31 L1436.3,1098.36 L1437.3,1098.44 L1438.3,1098.54 L1439.3,1098.67 L1440.3,1098.83 L1441.3,1099.00 L1442.3,1099.19 L1443.3,1099.39 L1444.3,1099.59 L1445.3,1099.80 L1446.3,1100.02 L1447.3,1100.23 L1448.3,1100.43 L1449.3,1100.63 L1450.3,1100.82 L1451.3,1100.99 L1452.3,1101.14 L1453.3,1101.27 L1454.3,1101.37 L1455.3,1101.45 L1456.3,1101.49 L1457.3,1101.50 L1458.3,1101.44 L1459.3,1101.30 L1460.3,1101.10 L1461.3,1100.83 L1462.3,1100.49 L1463.3,1100.09 L1464.3,1099.63 L1465.3,1099.11 L1466.3,1098.53 L1467.3,1097.90 L1468.3,1097.19 L1469.3,1096.37 L1470.3,1095.46 L1471.3,1094.48 L1472.3,1093.45 L1473.3,1092.37 L1474.3,1091.28 L1475.3,1090.17 L1476.3,1089.08 L1477.3,1088.01 L1478.3,1086.98 L1479.3,1086.01 L1480.3,1085.11 L1481.3,1084.31 L1482.3,1083.61 L1483.3,1083.03 L1484.3,1082.59 L1485.3,1082.31 L1486.3,1082.20 L1487.3,1082.24 L1488.3,1082.36 L1489.3,1082.56 L1490.3,1082.81 L1491.3,1083.10 L1492.3,1083.42 L1493.3,1083.75 L1494.3,1084.08 L1495.3,1084.39 L1496.3,1084.67 L1497.3,1084.91 L1498.3,1085.08 L1499.3,1085.18 L1500.3,1085.19 L1501.3,1085.08 L1502.3,1084.85 L1503.3,1084.52 L1504.3,1084.08 L1505.3,1083.56 L1506.3,1082.96 L1507.3,1082.29 L1508.3,1081.56 L1509.3,1080.78 L1510.3,1079.95 L1511.3,1079.09 L1512.3,1078.21 L1513.3,1077.28 L1514.3,1076.28 L1515.3,1075.22 L1516.3,1074.11 L1517.3,1072.96 L1518.3,1071.78 L1519.3,1070.57 L1520.3,1069.35 L1521.3,1068.12 L1522.3,1066.89 L1523.3,1065.67 L1524.3,1064.47 L1525.3,1063.29 L1526.3,1062.15 L1527.3,1061.05 L1528.3,1060.00 L1529.3,1059.00 L1530.3,1058.00 L1531.3,1056.98 L1532.3,1055.96 L1533.3,1054.96 L1534.3,1054.00 L1535.3,1053.11 L1536.3,1052.31 L1537.3,1051.62 L1538.3,1051.06 L1539.3,1050.66 L1540.3,1050.44 L1541.3,1050.41 L1542.3,1050.57 L1543.3,1050.90 L1544.3,1051.40 L1545.3,1052.05 L1546.3,1052.85 L1547.3,1053.80 L1548.3,1054.88 L1549.3,1056.10 L1550.3,1057.44 L1551.3,1058.89 L1552.3,1060.52 L1553.3,1062.41 L1554.3,1064.52 L1555.3,1066.79 L1556.3,1069.18 L1557.3,1071.63 L1558.3,1074.10 L1559.3,1076.54 L1560.3,1078.89 L1561.3,1081.11 L1562.3,1083.15 L1563.3,1084.99 L1564.3,1086.74 L1565.3,1088.41 L1566.3,1089.98 L1567.3,1091.44 L1568.3,1092.78 L1569.3,1093.97 L1570.3,1095.02 L1571.3,1095.90 L1572.3,1096.61 L1573.3,1097.21 L1574.3,1097.72 L1575.3,1098.14 L1576.3,1098.49 L1577.3,1098.77 L1578.3,1099.00 L1579.3,1099.19 L1580.3,1099.35 L1581.3,1099.50 L1582.3,1099.64 L1583.3,1099.78 L1584.3,1099.94 L1585.3,1100.12 L1586.3,1100.32 L1587.3,1100.51 L1588.3,1100.70 L1589.3,1100.89 L1590.3,1101.08 L1591.3,1101.25 L1592.3,1101.43 L1593.3,1101.59 L1594.3,1101.74 L1595.3,1101.88 L1596.3,1102.01 L1597.3,1102.13 L1598.3,1102.23 L1599.3,1102.32 L1600.3,1102.39 L1601.3,1102.45 L1602.3,1102.48 L1603.3,1102.50 L1604.3,1102.50 L1605.3,1102.50 L1606.3,1102.50 L1607.3,1102.50 L1608.3,1102.50 L1609.3,1102.50 L1610.3,1102.50 L1611.3,1102.50 L1612.3,1102.50 L1613.3,1102.50 L1614.3,1102.50 L1615.3,1102.50 L1616.3,1102.50 L1617.3,1102.50 L1618.3,1102.50 L1619.3,1102.50 L1620.3,1102.50 L1621.3,1102.50 L1622.3,1102.50 L1623.3,1102.50 L1624.3,1102.50 L1625.3,1102.50 L1626.3,1102.50 L1627.3,1102.50 L1628.3,1102.50 L1629.3,1102.50 L1630.3,1102.50 L1631.3,1102.50 L1632.3,1102.50 L1633.3,1102.50 L1634.3,1102.50 L1635.3,1102.50 L1636.3,1102.50 L1637.3,1102.50 L1638.3,1102.50 L1639.3,1102.50 L1640.3,1102.50 L1641.3,1102.50 L1642.3,1102.50 L1643.3,1102.50 L1644.3,1102.50 L1645.3,1102.50 L1646.3,1102.50 L1647.3,1102.50 L1648.3,1102.50 L1649.3,1102.50 L1650.3,1102.50 L1651.3,1102.50 L1652.3,1102.50 L1653.3,1102.50 L1654.3,1102.50 L1655.3,1102.50 L1656.3,1102.49 L1657.3,1102.45 L1658.3,1102.39 L1659.3,1102.31 L1660.3,1102.22 L1661.3,1102.11 L1662.3,1101.99 L1663.3,1101.86 L1664.3,1101.72 L1665.3,1101.58 L1666.3,1101.43 L1667.3,1101.28 L1668.3,1101.14 L1669.3,1101.00 L1670.3,1100.86 L1671.3,1100.74 L1672.3,1100.62 L1673.3,1100.52 L1674.3,1100.44 L1675.3,1100.37 L1676.3,1100.32 L1677.3,1100.30 L1678.3,1100.30 L1679.3,1100.32 L1680.3,1100.36 L1681.3,1100.41 L1682.3,1100.48 L1683.3,1100.55 L1684.3,1100.64 L1685.3,1100.72 L1686.3,1100.81 L1687.3,1100.90 L1688.3,1101.00 L1689.3,1101.08 L1690.3,1101.16 L1691.3,1101.23 L1692.3,1101.30 L1693.3,1101.35 L1694.3,1101.38 L1695.3,1101.40 L1696.3,1101.39 L1697.3,1101.36 L1698.3,1101.29 L1699.3,1101.20 L1700.3,1101.08 L1701.3,1100.94 L1702.3,1100.79 L1703.3,1100.62 L1704.3,1100.44 L1705.3,1100.26 L1706.3,1100.07 L1707.3,1099.89 L1708.3,1099.70 L1709.3,1099.53 L1710.3,1099.36 L1711.3,1099.21 L1711.4,1099.20 L1711.4,1103.0 Z" fill="#cd733a"/>
<rect x="962" y="1101.8" width="756" height="2.6" fill="#30363c"/>
<rect x="1000.1" y="1103" width="2.6" height="13" fill="#30363c"/>
<rect x="1071.5" y="1103" width="2.6" height="13" fill="#30363c"/>
<rect x="1144.0" y="1103" width="2.6" height="13" fill="#30363c"/>
<rect x="1209.1" y="1103" width="2.6" height="13" fill="#30363c"/>
<rect x="1281.4" y="1103" width="2.6" height="13" fill="#30363c"/>
<rect x="1351.0" y="1103" width="2.6" height="13" fill="#30363c"/>
<rect x="1422.8000000000002" y="1103" width="2.6" height="13" fill="#30363c"/>
<rect x="1493.5" y="1103" width="2.6" height="13" fill="#30363c"/>
<rect x="1565.1" y="1103" width="2.6" height="13" fill="#30363c"/>
<rect x="1637.2" y="1103" width="2.6" height="13" fill="#30363c"/>
<rect x="1707.6" y="1103" width="2.6" height="13" fill="#30363c"/>
</svg>
<div class="t" style="left:23.40px;top:28.39px;font-size:48.8px;color:#cad1d8;font-weight:400;letter-spacing:-2.096px;-webkit-text-stroke:0.35px #cad1d8;">Nov 15, 2020 – Oct 6, 2021</div>
<div class="t" style="left:1455.90px;top:38.24px;font-size:26.3px;color:#9aa1a9;font-weight:400;letter-spacing:-0.100px;-webkit-text-stroke:0.70px #9aa1a9;">Contributions:</div>
<div class="t" style="left:1622.20px;top:38.24px;font-size:26.3px;color:#cad1d8;font-weight:400;letter-spacing:-0.667px;-webkit-text-stroke:0.80px #cad1d8;">Commits</div>
<div class="t" style="left:24.70px;top:141.04px;font-size:29.6px;color:#8d949d;font-weight:400;letter-spacing:-0.627px;-webkit-text-stroke:0.35px #8d949d;">Contributions to main, excluding merge commits and bot accounts</div>
<div class="t" style="left:70.20px;top:265.45px;font-size:20.5px;color:#8d949d;font-weight:400;letter-spacing:-1.150px;-webkit-text-stroke:0.35px #8d949d;">100</div>
<div class="t" style="left:81.05px;top:322.45px;font-size:20.5px;color:#8d949d;font-weight:400;letter-spacing:-1.150px;-webkit-text-stroke:0.35px #8d949d;">80</div>
<div class="t" style="left:81.05px;top:379.45px;font-size:20.5px;color:#8d949d;font-weight:400;letter-spacing:-1.150px;-webkit-text-stroke:0.35px #8d949d;">60</div>
<div class="t" style="left:81.05px;top:436.45px;font-size:20.5px;color:#8d949d;font-weight:400;letter-spacing:-1.150px;-webkit-text-stroke:0.35px #8d949d;">40</div>
<div class="t" style="left:81.05px;top:493.45px;font-size:20.5px;color:#8d949d;font-weight:400;letter-spacing:-1.150px;-webkit-text-stroke:0.35px #8d949d;">20</div>
<div class="t" style="left:90.90px;top:550.45px;font-size:20.5px;color:#8d949d;font-weight:400;letter-spacing:-1.150px;-webkit-text-stroke:0.35px #8d949d;">0</div>
<div class="t" style="left:157.70px;top:574.73px;font-size:20.4px;color:#8d949d;font-weight:400;letter-spacing:-0.686px;-webkit-text-stroke:0.35px #8d949d;">December</div>
<div class="t" style="left:334.53px;top:574.73px;font-size:20.4px;color:#8d949d;font-weight:400;letter-spacing:-0.686px;-webkit-text-stroke:0.35px #8d949d;">2021</div>
<div class="t" style="left:470.40px;top:574.73px;font-size:20.4px;color:#8d949d;font-weight:400;letter-spacing:-0.686px;-webkit-text-stroke:0.35px #8d949d;">February</div>
<div class="t" style="left:621.27px;top:574.73px;font-size:20.4px;color:#8d949d;font-weight:400;letter-spacing:-0.686px;-webkit-text-stroke:0.35px #8d949d;">March</div>
<div class="t" style="left:782.47px;top:574.73px;font-size:20.4px;color:#8d949d;font-weight:400;letter-spacing:-0.686px;-webkit-text-stroke:0.35px #8d949d;">April</div>
<div class="t" style="left:930.99px;top:574.73px;font-size:20.4px;color:#8d949d;font-weight:400;letter-spacing:-0.686px;-webkit-text-stroke:0.35px #8d949d;">May</div>
<div class="t" style="left:1081.93px;top:574.73px;font-size:20.4px;color:#8d949d;font-weight:400;letter-spacing:-0.686px;-webkit-text-stroke:0.35px #8d949d;">June</div>
<div class="t" style="left:1234.63px;top:574.73px;font-size:20.4px;color:#8d949d;font-weight:400;letter-spacing:-0.686px;-webkit-text-stroke:0.35px #8d949d;">July</div>
<div class="t" style="left:1376.31px;top:574.73px;font-size:20.4px;color:#8d949d;font-weight:400;letter-spacing:-0.686px;-webkit-text-stroke:0.35px #8d949d;">August</div>
<div class="t" style="left:1511.34px;top:574.73px;font-size:20.4px;color:#8d949d;font-weight:400;letter-spacing:-0.686px;-webkit-text-stroke:0.35px #8d949d;">September</div>
<div class="t" style="left:1673.46px;top:574.73px;font-size:20.4px;color:#8d949d;font-weight:400;letter-spacing:-0.686px;-webkit-text-stroke:0.35px #8d949d;">October</div>
<div class="t" style="left:129.70px;top:723.94px;font-size:40px;color:#6ba4f8;font-weight:400;letter-spacing:-0.278px;-webkit-text-stroke:0.35px #6ba4f8;">kentcdodds</div>
<div class="t" style="left:131.40px;top:771.18px;font-size:24px;color:#8d949d;font-weight:400;letter-spacing:0.550px;-webkit-text-stroke:0.35px #8d949d;">807 commits</div>
<div class="t" style="left:297.60px;top:771.18px;font-size:24px;color:#64b75d;font-weight:400;letter-spacing:0.767px;-webkit-text-stroke:0.35px #64b75d;">303,023</div>
<div class="t" style="left:448.30px;top:771.18px;font-size:24px;color:#e55e51;font-weight:400;letter-spacing:-0.383px;-webkit-text-stroke:0.35px #e55e51;">171,395</div>
<div class="t" style="left:834.80px;top:722.60px;font-size:28px;color:#8d949d;font-weight:400;letter-spacing:-3.400px;-webkit-text-stroke:0.35px #8d949d;">#1</div>
<div class="t" style="left:1017.60px;top:723.94px;font-size:40px;color:#6ba4f8;font-weight:400;letter-spacing:-1.067px;-webkit-text-stroke:0.35px #6ba4f8;">smeijer</div>
<div class="t" style="left:1017.70px;top:771.18px;font-size:24px;color:#8d949d;font-weight:400;letter-spacing:0.744px;-webkit-text-stroke:0.35px #8d949d;">66 commits</div>
<div class="t" style="left:1170.90px;top:771.18px;font-size:24px;color:#64b75d;font-weight:400;letter-spacing:0.260px;-webkit-text-stroke:0.35px #64b75d;">12,980</div>
<div class="t" style="left:1307.00px;top:771.18px;font-size:24px;color:#e55e51;font-weight:400;letter-spacing:-0.460px;-webkit-text-stroke:0.35px #e55e51;">25,176</div>
<div class="t" style="left:1718.30px;top:722.60px;font-size:28px;color:#8d949d;font-weight:400;letter-spacing:1.600px;-webkit-text-stroke:0.35px #8d949d;">#2</div>
<div class="t" style="left:129.70px;top:1278.14px;font-size:40px;color:#6ba4f8;font-weight:400;letter-spacing:0.100px;-webkit-text-stroke:0.35px #6ba4f8;">mrkurt</div>
<div class="t" style="left:131.40px;top:1323.88px;font-size:24px;color:#8d949d;font-weight:400;letter-spacing:0.450px;-webkit-text-stroke:0.35px #8d949d;">3 commits</div>
<div class="t" style="left:269.80px;top:1323.88px;font-size:24px;color:#64b75d;font-weight:400;letter-spacing:1.950px;-webkit-text-stroke:0.35px #64b75d;">309</div>
<div class="t" style="left:373.80px;top:1323.88px;font-size:24px;color:#e55e51;font-weight:400;letter-spacing:2.600px;-webkit-text-stroke:0.35px #e55e51;">96</div>
<div class="t" style="left:830.50px;top:1276.60px;font-size:28px;color:#8d949d;font-weight:400;letter-spacing:3.500px;-webkit-text-stroke:0.35px #8d949d;">#3</div>
<div class="t" style="left:1016.00px;top:1278.14px;font-size:40px;color:#6ba4f8;font-weight:400;letter-spacing:-1.167px;-webkit-text-stroke:0.35px #6ba4f8;">eps1lon</div>
<div class="t" style="left:1016.90px;top:1323.88px;font-size:24px;color:#8d949d;font-weight:400;letter-spacing:0.243px;-webkit-text-stroke:0.35px #8d949d;">1 commit</div>
<div class="t" style="left:1141.60px;top:1323.88px;font-size:24px;color:#64b75d;font-weight:400;letter-spacing:0.000px;-webkit-text-stroke:0.35px #64b75d;">2</div>
<div class="t" style="left:1216.80px;top:1323.88px;font-size:24px;color:#e55e51;font-weight:400;letter-spacing:0.000px;-webkit-text-stroke:0.35px #e55e51;">4</div>
<div class="t" style="left:1718.30px;top:1276.60px;font-size:28px;color:#8d949d;font-weight:400;letter-spacing:0.700px;-webkit-text-stroke:0.35px #8d949d;">#4</div>
<div class="t" style="left:58.10px;top:1119.90px;font-size:25.4px;color:#8d949d;font-weight:400;letter-spacing:-0.871px;-webkit-text-stroke:0.35px #8d949d;">December</div>
<div class="t" style="left:289.30px;top:1119.90px;font-size:25.4px;color:#8d949d;font-weight:400;letter-spacing:-0.475px;-webkit-text-stroke:0.35px #8d949d;">March</div>
<div class="t" style="left:511.70px;top:1119.90px;font-size:25.4px;color:#8d949d;font-weight:400;letter-spacing:-0.767px;-webkit-text-stroke:0.35px #8d949d;">June</div>
<div class="t" style="left:692.50px;top:1119.90px;font-size:25.4px;color:#8d949d;font-weight:400;letter-spacing:-0.775px;-webkit-text-stroke:0.35px #8d949d;">September</div>
<div class="t" style="left:401.80px;top:941.19px;font-size:26px;color:#8d949d;font-weight:400;letter-spacing:-1.400px;-webkit-text-stroke:0.35px #8d949d;">50</div>
<div class="t" style="left:944.95px;top:1119.90px;font-size:25.4px;color:#8d949d;font-weight:400;letter-spacing:-0.871px;-webkit-text-stroke:0.35px #8d949d;">December</div>
<div class="t" style="left:1175.85px;top:1119.90px;font-size:25.4px;color:#8d949d;font-weight:400;letter-spacing:-0.475px;-webkit-text-stroke:0.35px #8d949d;">March</div>
<div class="t" style="left:1398.25px;top:1119.90px;font-size:25.4px;color:#8d949d;font-weight:400;letter-spacing:-0.767px;-webkit-text-stroke:0.35px #8d949d;">June</div>
<div class="t" style="left:1579.10px;top:1119.90px;font-size:25.4px;color:#8d949d;font-weight:400;letter-spacing:-0.775px;-webkit-text-stroke:0.35px #8d949d;">September</div>
<div class="t" style="left:1288.80px;top:941.19px;font-size:26px;color:#8d949d;font-weight:400;letter-spacing:-1.400px;-webkit-text-stroke:0.35px #8d949d;">50</div>
<svg style="position:absolute;left:0;top:0" width="1782" height="1350">
<rect x="396.80" y="782.95" width="12.30" height="2.1" fill="#64b75d"/>
<rect x="401.90" y="777.65" width="2.1" height="12.70" fill="#64b75d"/>
<rect x="411.60" y="782.95" width="12.30" height="2.1" fill="#64b75d"/>
<rect x="416.70" y="777.65" width="2.1" height="12.70" fill="#64b75d"/>
<rect x="540.60" y="782.90" width="8.40" height="2.2" fill="#e55e51"/>
<rect x="551.90" y="782.90" width="8.40" height="2.2" fill="#e55e51"/>
<rect x="1253.40" y="782.95" width="12.55" height="2.1" fill="#64b75d"/>
<rect x="1258.63" y="777.52" width="2.1" height="12.95" fill="#64b75d"/>
<rect x="1268.45" y="782.95" width="12.55" height="2.1" fill="#64b75d"/>
<rect x="1273.67" y="777.52" width="2.1" height="12.95" fill="#64b75d"/>
<rect x="1386.20" y="782.90" width="8.35" height="2.2" fill="#e55e51"/>
<rect x="1397.45" y="782.90" width="8.35" height="2.2" fill="#e55e51"/>
<rect x="321.30" y="1335.65" width="12.10" height="2.1" fill="#64b75d"/>
<rect x="326.30" y="1330.45" width="2.1" height="12.50" fill="#64b75d"/>
<rect x="335.90" y="1335.65" width="12.10" height="2.1" fill="#64b75d"/>
<rect x="340.90" y="1330.45" width="2.1" height="12.50" fill="#64b75d"/>
<rect x="411.00" y="1335.60" width="8.10" height="2.2" fill="#e55e51"/>
<rect x="422.00" y="1335.60" width="8.10" height="2.2" fill="#e55e51"/>
<rect x="1162.90" y="1335.65" width="12.20" height="2.1" fill="#64b75d"/>
<rect x="1167.95" y="1330.40" width="2.1" height="12.60" fill="#64b75d"/>
<rect x="1177.60" y="1335.65" width="12.20" height="2.1" fill="#64b75d"/>
<rect x="1182.65" y="1330.40" width="2.1" height="12.60" fill="#64b75d"/>
<rect x="1238.30" y="1335.60" width="8.05" height="2.2" fill="#e55e51"/>
<rect x="1249.25" y="1335.60" width="8.05" height="2.2" fill="#e55e51"/>
</svg>
<svg style="position:absolute;left:39.0px;top:716.0px" width="80" height="80" viewBox="-40 -40 80 80"><defs><clipPath id="clipk"><circle r="38"/></clipPath><filter id="blk" x="-20%" y="-20%" width="140%" height="140%"><feGaussianBlur stdDeviation="0.9"/></filter></defs><g clip-path="url(#clipk)"><g filter="url(#blk)">
<rect x="-42" y="-42" width="84" height="84" fill="#181310"/>
<rect x="-42" y="-42" width="24" height="84" fill="#2a1f19"/>
<rect x="-37" y="-42" width="2.5" height="84" fill="#3b2b21"/>
<rect x="-31" y="-42" width="2.5" height="84" fill="#37281f"/>
<rect x="-25" y="-42" width="2.5" height="84" fill="#33251c"/>
<rect x="-14" y="-42" width="12" height="10" fill="#3a3a30"/>
<rect x="16" y="-42" width="26" height="84" fill="#120f0d"/>
<path d="M-17,-14 C-18,-29 -6,-33 1,-32 C11,-32 18,-27 17,-14 L16,-6 L-17,-6 Z" fill="#2a1912"/>
<path d="M-16,-13 C-16,-24 -6,-27 1,-27 C9,-27 16,-23 16,-12 L16,6 C15,13 8,19 0,19 C-8,19 -15,13 -16,6 Z" fill="#bf8d72"/>
<ellipse cx="-3" cy="-16" rx="8" ry="6.5" fill="#dcb39d"/>
<ellipse cx="6" cy="-12" rx="6" ry="6" fill="#d09a82"/>
<ellipse cx="9" cy="4" rx="6" ry="9" fill="#a97a60"/>
<ellipse cx="16.5" cy="0" rx="2.8" ry="5.5" fill="#a77a62"/>
<path d="M-13,-6 Q-9,-8 -6,-6 M1,-6 Q5,-8 8,-6" stroke="#4a2e22" stroke-width="2.2" fill="none"/>
<path d="M-10,8 Q-3,13 5,9 Q-3,11 -10,8 Z" fill="#f2e8e2" stroke="#f2e8e2" stroke-width="1.6"/>
<rect x="-10" y="16" width="20" height="12" fill="#a4755c"/>
<path d="M-42,42 L-42,32 Q-26,27 -12,26 L10,25 Q28,22 42,26 L42,42 Z" fill="#1b2746"/>
<path d="M-12,27 Q-8,24 -3,28 L-6,36 L-12,36 Z" fill="#e6e2dc"/>
</g></g><circle r="37.4" fill="none" stroke="rgba(49,54,60,0.95)" stroke-width="1.4"/></svg>
<svg style="position:absolute;left:926.2px;top:716.3px" width="80" height="80" viewBox="-40 -40 80 80"><defs><clipPath id="clips"><circle r="38"/></clipPath><filter id="bls" x="-20%" y="-20%" width="140%" height="140%"><feGaussianBlur stdDeviation="0.9"/></filter></defs><g clip-path="url(#clips)"><g filter="url(#bls)">
<rect x="-42" y="-42" width="84" height="84" fill="#fefefe"/>
<path d="M-15,-14 C-17,-27 -6,-31 2,-30 C10,-31 18,-26 18,-16 L19,-9 L16,-6 L-15,-6 Z" fill="#3b2c22"/>
<path d="M-14,-14 C-14,-22 -6,-23 1,-23 C10,-23 16,-20 16,-12 L16,4 C15,11 8,14 1,14 C-6,14 -13,11 -14,4 Z" fill="#d2a28e"/>
<ellipse cx="-3" cy="-15" rx="6" ry="5" fill="#e4bcac"/>
<ellipse cx="16.5" cy="-2" rx="2.5" ry="4.5" fill="#c98c76"/>
<path d="M-10,-7 L-4,-7 M4,-7 L10,-7" stroke="#6e5248" stroke-width="1.8"/>
<path d="M-7,6 Q1,8 9,6" stroke="#8e6256" stroke-width="1.4" fill="none"/>
<path d="M-42,42 L-42,26 Q-34,20 -24,17 Q-14,12 -8,11 Q0,18 4,26 Q12,16 20,12 Q30,16 36,20 Q40,22 42,24 L42,42 Z" fill="#686b72"/>
<path d="M-24,18 Q-20,28 -10,34 L-14,40 Q-26,34 -30,24 Z" fill="#7c7f86"/>
<path d="M22,14 Q28,26 20,36 L26,40 Q34,28 30,16 Z" fill="#7a7d84"/>
<path d="M0,22 Q3,28 8,22 L7,28 L1,29 Z" fill="#1c1c1e"/>
</g></g><circle r="37.4" fill="none" stroke="rgba(49,54,60,0.95)" stroke-width="1.4"/></svg>
<svg style="position:absolute;left:39.2px;top:1269.5px" width="80" height="80" viewBox="-40 -40 80 80"><defs><clipPath id="clipm"><circle r="38"/></clipPath><filter id="blm" x="-20%" y="-20%" width="140%" height="140%"><feGaussianBlur stdDeviation="1.1"/></filter></defs><g clip-path="url(#clipm)"><g filter="url(#blm)">
<rect x="-42" y="-42" width="84" height="84" fill="#2a2a27"/>
<path d="M-44,-26 Q-38,-22 -30,-14 Q-14,2 2,18 Q10,26 14,42 L0,44 Q-6,30 -16,20 Q-30,6 -44,-6 Z" fill="#93bea7"/>
<path d="M-20,-12 C-22,-22 -8,-24 4,-20 C14,-17 20,-12 19,-5 C18,1 8,3 0,1 C-10,-1 -18,-4 -20,-12 Z" fill="#a2ceb7"/>
<path d="M-6,0 Q4,8 14,12 Q24,16 26,24 Q24,28 20,26 Q16,18 6,14 Q-2,10 -8,6 Z" fill="#8fbaa2"/>
<path d="M-28,2 Q-24,10 -18,14 Q-22,16 -28,10 Z" fill="#88b39b"/>
<ellipse cx="-13" cy="-16" rx="3.4" ry="4" fill="#f4fff9"/>
<ellipse cx="12" cy="-12" rx="3.6" ry="4" fill="#f4fff9"/>
<path d="M-4,-6 Q4,-2 12,-4" stroke="#6f9884" stroke-width="1.2" fill="none"/>
</g></g><circle r="37.4" fill="none" stroke="rgba(49,54,60,0.95)" stroke-width="1.4"/></svg>
<svg style="position:absolute;left:926.0px;top:1268.8px" width="80" height="80" viewBox="-40 -40 80 80"><defs><clipPath id="clipe"><circle r="38"/></clipPath><filter id="ble" x="-20%" y="-20%" width="140%" height="140%"><feGaussianBlur stdDeviation="0.9"/></filter></defs><g clip-path="url(#clipe)"><g filter="url(#ble)">
<rect x="-42" y="-42" width="84" height="84" fill="#586c98"/>
<rect x="-42" y="-42" width="84" height="22" fill="#6478a2"/>
<path d="M-42,-2 L42,-12 L42,0 L-42,8 Z" fill="#7d8a8e"/>
<path d="M-42,4 L42,-8 L42,16 L-42,28 Z" fill="#b5ab8c"/>
<path d="M-42,12 L42,-2 L42,6 L-42,18 Z" fill="#93a070"/>
<path d="M-15,-16 C-16,-30 12,-31 14,-16 L14,-12 L-15,-12 Z" fill="#c6a474"/>
<path d="M-14,-16 C-14,-24 12,-24 13,-16 L13,2 C12,9 6,12 -1,12 C-8,12 -13,9 -14,2 Z" fill="#e3bca4"/>
<path d="M-16,-12 L15,-12 L14,-6 Q8,-3 1,-7 Q-7,-3 -15,-6 Z" fill="#111111"/>
<path d="M-7,3 Q-1,8 6,3" stroke="#8e5c50" stroke-width="1.4" fill="#f4f0ee"/>
<rect x="-8" y="10" width="14" height="6" fill="#d0a690"/>
<path d="M-42,42 L-42,26 Q-30,16 -14,13 Q-1,20 12,13 Q28,16 42,26 L42,42 Z" fill="#33374a"/>
<path d="M-14,13 Q-1,22 12,13 L10,17 Q-1,25 -12,17 Z" fill="#55596a"/>
<path d="M-42,22 Q-34,18 -30,18 Q-22,28 -12,38 L-10,44 L-42,44 Z" fill="#ebe7df"/><path d="M-40,26 Q-30,22 -26,24 Q-20,32 -14,40 L-20,44 L-42,44 Z" fill="#f6f3ee"/>
</g></g><circle r="37.4" fill="none" stroke="rgba(49,54,60,0.95)" stroke-width="1.4"/></svg>

</body></html>
